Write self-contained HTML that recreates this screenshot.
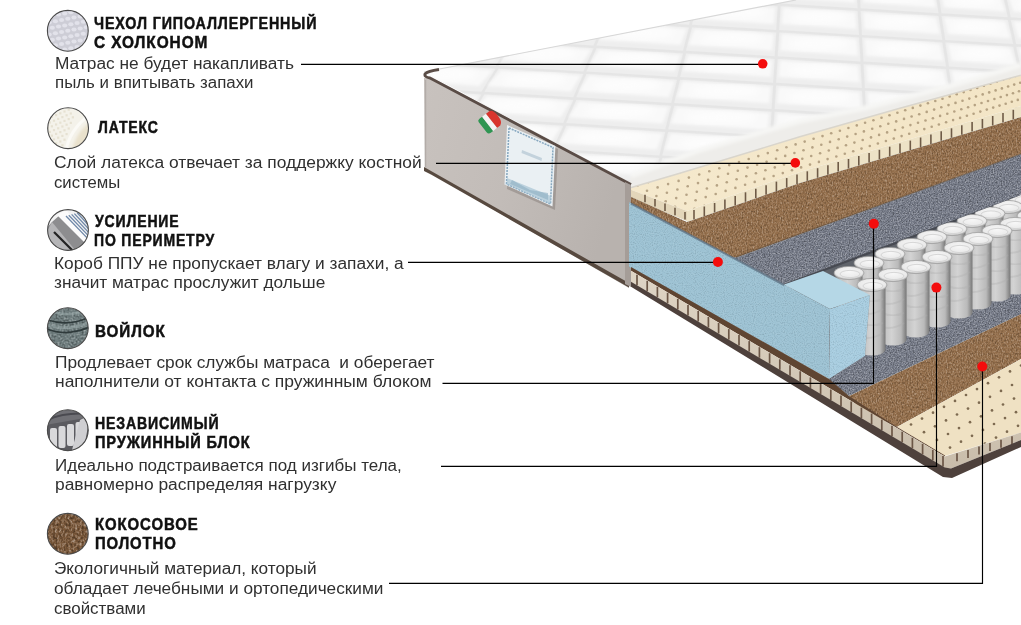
<!DOCTYPE html>
<html><head><meta charset="utf-8">
<style>
html,body{margin:0;padding:0;background:#fff;width:1021px;height:625px;overflow:hidden;position:relative}
svg.m{position:absolute;left:0;top:0}
.t{position:absolute;white-space:pre;font-family:"Liberation Sans",sans-serif;font-weight:bold;font-size:16.5px;line-height:16.5px;color:#111;-webkit-text-stroke:0.5px #111;letter-spacing:1px;transform-origin:0 0}
.b{position:absolute;white-space:pre;font-family:"Liberation Sans",sans-serif;font-size:16px;line-height:16px;color:#303030;transform-origin:0 0}
.c{position:absolute;border-radius:50%;box-sizing:border-box;overflow:hidden}
</style></head><body>
<svg class="m" width="1021" height="625" viewBox="0 0 1021 625">
<defs>
<linearGradient id="gSide" x1="0" y1="0" x2="1" y2="0.3">
<stop offset="0" stop-color="#c8c2be"/><stop offset="0.5" stop-color="#c2bcb8"/><stop offset="1" stop-color="#b8b2ae"/>
</linearGradient>
<linearGradient id="gCover" x1="0" y1="0" x2="0.6" y2="1">
<stop offset="0" stop-color="#f7f7f7"/><stop offset="1" stop-color="#f0f0f0"/>
</linearGradient>
<linearGradient id="gSpring" x1="0" y1="0" x2="1" y2="0">
<stop offset="0" stop-color="#7a7a7a"/><stop offset="0.18" stop-color="#c2c2c2"/><stop offset="0.45" stop-color="#d3d3d3"/><stop offset="0.8" stop-color="#bababa"/><stop offset="1" stop-color="#777777"/>
</linearGradient>
<radialGradient id="gCap" cx="0.5" cy="0.4" r="0.6">
<stop offset="0" stop-color="#f7f7f7"/><stop offset="0.75" stop-color="#eaeaea"/><stop offset="1" stop-color="#b8b8b8"/>
</radialGradient>
<linearGradient id="gLatexTop" x1="0" y1="0" x2="1" y2="0">
<stop offset="0" stop-color="#f5e9cd"/><stop offset="1" stop-color="#f3e5c6"/>
</linearGradient>
<linearGradient id="gTile" x1="0" y1="0" x2="0" y2="1">
<stop offset="0" stop-color="#dfd5c5"/><stop offset="1" stop-color="#c9bdab"/>
</linearGradient>
<filter id="tCoir" x="0" y="0" width="100%" height="100%" color-interpolation-filters="sRGB">
<feTurbulence type="fractalNoise" baseFrequency="0.8 0.45" numOctaves="3" seed="4" result="n"/>
<feColorMatrix in="n" type="matrix" values="0.400 0 0 0 0.300  0.400 0 0 0 0.300  0.400 0 0 0 0.300  0 0 0 0 1" result="g"/>
<feBlend in="SourceGraphic" in2="g" mode="overlay" result="b"/>
<feComposite in="b" in2="SourceAlpha" operator="in"/>
</filter><filter id="tFelt" x="0" y="0" width="100%" height="100%" color-interpolation-filters="sRGB">
<feTurbulence type="fractalNoise" baseFrequency="0.75" numOctaves="2" seed="2" result="n"/>
<feColorMatrix in="n" type="matrix" values="0.500 0 0 0 0.250  0.500 0 0 0 0.250  0.500 0 0 0 0.250  0 0 0 0 1" result="g"/>
<feBlend in="SourceGraphic" in2="g" mode="overlay" result="b"/>
<feComposite in="b" in2="SourceAlpha" operator="in"/>
</filter><filter id="tFoam" x="0" y="0" width="100%" height="100%" color-interpolation-filters="sRGB">
<feTurbulence type="fractalNoise" baseFrequency="0.9" numOctaves="1" seed="8" result="n"/>
<feColorMatrix in="n" type="matrix" values="0.180 0 0 0 0.410  0.180 0 0 0 0.410  0.180 0 0 0 0.410  0 0 0 0 1" result="g"/>
<feBlend in="SourceGraphic" in2="g" mode="overlay" result="b"/>
<feComposite in="b" in2="SourceAlpha" operator="in"/>
</filter>
<filter id="blur0"><feGaussianBlur stdDeviation="0.35"/></filter>
<filter id="blur1"><feGaussianBlur stdDeviation="0.7"/></filter>
<filter id="blur2"><feGaussianBlur stdDeviation="1.5"/></filter>
<filter id="blur3"><feGaussianBlur stdDeviation="3"/></filter>
<clipPath id="cpCover"><polygon points="424,72 796,0 1021,0 1021,68 631,183"/></clipPath>
<clipPath id="cpSprings"><polygon points="784,284 1021,195 1021,310 870,372 829,380"/></clipPath>
</defs>
<polygon points="424.0,72.0 796.0,0.0 1021.0,0.0 1021.0,68.0 631.0,183.0" fill="#e5e5e5" />
<g clip-path="url(#cpCover)">
<polygon points="395.2,-16.9 464.4,-12.6 446.6,10.1 373.7,5.6" fill="#eeeeee" filter="url(#blur1)"/>
<polygon points="397.7,-15.4 461.9,-11.1 444.1,4.3 376.2,-0.2" fill="#f9f9f9" filter="url(#blur2)"/>
<ellipse cx="420.0" cy="-6.6" rx="26.0" ry="6" fill="#fdfdfd" filter="url(#blur3)"/>
<polygon points="373.7,8.3 446.6,12.8 428.8,35.6 352.3,30.8" fill="#eeeeee" filter="url(#blur1)"/>
<polygon points="376.2,9.8 444.1,14.3 426.3,29.8 354.8,25.0" fill="#f9f9f9" filter="url(#blur2)"/>
<ellipse cx="400.3" cy="18.7" rx="27.3" ry="6" fill="#fdfdfd" filter="url(#blur3)"/>
<polygon points="352.3,33.5 428.8,38.3 411.0,61.0 330.9,56.0" fill="#eeeeee" filter="url(#blur1)"/>
<polygon points="354.8,35.0 426.3,39.8 408.5,55.2 333.4,50.2" fill="#f9f9f9" filter="url(#blur2)"/>
<ellipse cx="380.7" cy="44.1" rx="28.6" ry="6" fill="#fdfdfd" filter="url(#blur3)"/>
<polygon points="330.9,58.7 411.0,63.7 393.2,86.4 309.4,81.2" fill="#eeeeee" filter="url(#blur1)"/>
<polygon points="333.4,60.2 408.5,65.2 390.7,80.6 311.9,75.4" fill="#f9f9f9" filter="url(#blur2)"/>
<ellipse cx="361.1" cy="69.4" rx="29.9" ry="6" fill="#fdfdfd" filter="url(#blur3)"/>
<polygon points="309.4,83.9 393.2,89.1 375.4,111.9 288.0,106.4" fill="#eeeeee" filter="url(#blur1)"/>
<polygon points="311.9,85.4 390.7,90.6 372.9,106.1 290.5,100.6" fill="#f9f9f9" filter="url(#blur2)"/>
<ellipse cx="341.5" cy="94.7" rx="31.2" ry="6" fill="#fdfdfd" filter="url(#blur3)"/>
<polygon points="288.0,109.1 375.4,114.6 357.5,137.3 266.6,131.7" fill="#eeeeee" filter="url(#blur1)"/>
<polygon points="290.5,110.6 372.9,116.1 355.0,131.5 269.1,125.9" fill="#f9f9f9" filter="url(#blur2)"/>
<ellipse cx="321.9" cy="120.0" rx="32.5" ry="6" fill="#fdfdfd" filter="url(#blur3)"/>
<polygon points="266.6,134.4 357.5,140.0 339.7,162.7 245.1,156.9" fill="#eeeeee" filter="url(#blur1)"/>
<polygon points="269.1,135.9 355.0,141.5 337.2,156.9 247.6,151.1" fill="#f9f9f9" filter="url(#blur2)"/>
<ellipse cx="302.2" cy="145.3" rx="33.8" ry="6" fill="#fdfdfd" filter="url(#blur3)"/>
<polygon points="245.1,159.6 339.7,165.4 321.9,188.2 223.7,182.1" fill="#eeeeee" filter="url(#blur1)"/>
<polygon points="247.6,161.1 337.2,166.9 319.4,182.4 226.2,176.3" fill="#f9f9f9" filter="url(#blur2)"/>
<ellipse cx="282.6" cy="170.7" rx="35.1" ry="6" fill="#fdfdfd" filter="url(#blur3)"/>
<polygon points="223.7,184.8 321.9,190.9 304.1,213.6 202.3,207.3" fill="#eeeeee" filter="url(#blur1)"/>
<polygon points="226.2,186.3 319.4,192.4 301.6,207.8 204.8,201.5" fill="#f9f9f9" filter="url(#blur2)"/>
<ellipse cx="263.0" cy="196.0" rx="36.4" ry="6" fill="#fdfdfd" filter="url(#blur3)"/>
<polygon points="485.2,-38.0 551.9,-33.8 537.8,-10.9 467.4,-15.3" fill="#eeeeee" filter="url(#blur1)"/>
<polygon points="487.7,-36.5 549.4,-32.3 535.3,-16.7 469.9,-21.1" fill="#f9f9f9" filter="url(#blur2)"/>
<ellipse cx="510.6" cy="-27.7" rx="25.1" ry="6" fill="#fdfdfd" filter="url(#blur3)"/>
<polygon points="467.4,-12.6 537.8,-8.2 523.7,14.8 449.6,10.1" fill="#eeeeee" filter="url(#blur1)"/>
<polygon points="469.9,-11.1 535.3,-6.7 521.2,9.0 452.1,4.3" fill="#f9f9f9" filter="url(#blur2)"/>
<ellipse cx="494.6" cy="-2.1" rx="26.4" ry="6" fill="#fdfdfd" filter="url(#blur3)"/>
<polygon points="449.6,12.8 523.7,17.5 509.6,40.4 431.8,35.6" fill="#eeeeee" filter="url(#blur1)"/>
<polygon points="452.1,14.3 521.2,19.0 507.1,34.6 434.3,29.8" fill="#f9f9f9" filter="url(#blur2)"/>
<ellipse cx="478.7" cy="23.4" rx="27.8" ry="6" fill="#fdfdfd" filter="url(#blur3)"/>
<polygon points="431.8,38.3 509.6,43.1 495.5,66.1 414.0,61.0" fill="#eeeeee" filter="url(#blur1)"/>
<polygon points="434.3,39.8 507.1,44.6 493.0,60.3 416.5,55.2" fill="#f9f9f9" filter="url(#blur2)"/>
<ellipse cx="462.7" cy="49.0" rx="29.1" ry="6" fill="#fdfdfd" filter="url(#blur3)"/>
<polygon points="414.0,63.7 495.5,68.8 481.4,91.7 396.2,86.4" fill="#eeeeee" filter="url(#blur1)"/>
<polygon points="416.5,65.2 493.0,70.3 478.9,85.9 398.7,80.6" fill="#f9f9f9" filter="url(#blur2)"/>
<ellipse cx="446.7" cy="74.5" rx="30.4" ry="6" fill="#fdfdfd" filter="url(#blur3)"/>
<polygon points="396.2,89.1 481.4,94.4 467.3,117.4 378.4,111.9" fill="#eeeeee" filter="url(#blur1)"/>
<polygon points="398.7,90.6 478.9,95.9 464.8,111.6 380.9,106.1" fill="#f9f9f9" filter="url(#blur2)"/>
<ellipse cx="430.8" cy="100.1" rx="31.8" ry="6" fill="#fdfdfd" filter="url(#blur3)"/>
<polygon points="378.4,114.6 467.3,120.1 453.2,143.0 360.5,137.3" fill="#eeeeee" filter="url(#blur1)"/>
<polygon points="380.9,116.1 464.8,121.6 450.7,137.2 363.0,131.5" fill="#f9f9f9" filter="url(#blur2)"/>
<ellipse cx="414.8" cy="125.6" rx="33.1" ry="6" fill="#fdfdfd" filter="url(#blur3)"/>
<polygon points="360.5,140.0 453.2,145.7 439.1,168.7 342.7,162.7" fill="#eeeeee" filter="url(#blur1)"/>
<polygon points="363.0,141.5 450.7,147.2 436.6,162.9 345.2,156.9" fill="#f9f9f9" filter="url(#blur2)"/>
<ellipse cx="398.9" cy="151.1" rx="34.4" ry="6" fill="#fdfdfd" filter="url(#blur3)"/>
<polygon points="342.7,165.4 439.1,171.4 424.9,194.3 324.9,188.2" fill="#eeeeee" filter="url(#blur1)"/>
<polygon points="345.2,166.9 436.6,172.9 422.4,188.5 327.4,182.4" fill="#f9f9f9" filter="url(#blur2)"/>
<ellipse cx="382.9" cy="176.7" rx="35.8" ry="6" fill="#fdfdfd" filter="url(#blur3)"/>
<polygon points="324.9,190.9 424.9,197.0 410.8,220.0 307.1,213.6" fill="#eeeeee" filter="url(#blur1)"/>
<polygon points="327.4,192.4 422.4,198.5 408.3,214.2 309.6,207.8" fill="#f9f9f9" filter="url(#blur2)"/>
<ellipse cx="367.0" cy="202.2" rx="37.1" ry="6" fill="#fdfdfd" filter="url(#blur3)"/>
<polygon points="554.9,-33.8 623.8,-29.5 613.7,-6.3 540.8,-10.9" fill="#eeeeee" filter="url(#blur1)"/>
<polygon points="557.4,-32.3 621.3,-28.0 611.2,-12.1 543.3,-16.7" fill="#f9f9f9" filter="url(#blur2)"/>
<ellipse cx="583.3" cy="-23.3" rx="25.9" ry="6" fill="#fdfdfd" filter="url(#blur3)"/>
<polygon points="540.8,-8.2 613.7,-3.6 603.6,19.6 526.7,14.8" fill="#eeeeee" filter="url(#blur1)"/>
<polygon points="543.3,-6.7 611.2,-2.1 601.1,13.8 529.2,9.0" fill="#f9f9f9" filter="url(#blur2)"/>
<ellipse cx="571.2" cy="2.5" rx="27.3" ry="6" fill="#fdfdfd" filter="url(#blur3)"/>
<polygon points="526.7,17.5 603.6,22.3 593.5,45.5 512.6,40.4" fill="#eeeeee" filter="url(#blur1)"/>
<polygon points="529.2,19.0 601.1,23.8 591.0,39.7 515.1,34.6" fill="#f9f9f9" filter="url(#blur2)"/>
<ellipse cx="559.1" cy="28.3" rx="28.7" ry="6" fill="#fdfdfd" filter="url(#blur3)"/>
<polygon points="512.6,43.1 593.5,48.2 583.4,71.4 498.5,66.1" fill="#eeeeee" filter="url(#blur1)"/>
<polygon points="515.1,44.6 591.0,49.7 580.9,65.6 501.0,60.3" fill="#f9f9f9" filter="url(#blur2)"/>
<ellipse cx="547.0" cy="54.0" rx="30.2" ry="6" fill="#fdfdfd" filter="url(#blur3)"/>
<polygon points="498.5,68.8 583.4,74.1 573.3,97.2 484.4,91.7" fill="#eeeeee" filter="url(#blur1)"/>
<polygon points="501.0,70.3 580.9,75.6 570.8,91.4 486.9,85.9" fill="#f9f9f9" filter="url(#blur2)"/>
<ellipse cx="534.9" cy="79.8" rx="31.6" ry="6" fill="#fdfdfd" filter="url(#blur3)"/>
<polygon points="484.4,94.4 573.3,99.9 563.2,123.1 470.3,117.4" fill="#eeeeee" filter="url(#blur1)"/>
<polygon points="486.9,95.9 570.8,101.4 560.7,117.3 472.8,111.6" fill="#f9f9f9" filter="url(#blur2)"/>
<ellipse cx="522.8" cy="105.6" rx="33.1" ry="6" fill="#fdfdfd" filter="url(#blur3)"/>
<polygon points="470.3,120.1 563.2,125.8 553.1,149.0 456.2,143.0" fill="#eeeeee" filter="url(#blur1)"/>
<polygon points="472.8,121.6 560.7,127.3 550.6,143.2 458.7,137.2" fill="#f9f9f9" filter="url(#blur2)"/>
<ellipse cx="510.7" cy="131.4" rx="34.5" ry="6" fill="#fdfdfd" filter="url(#blur3)"/>
<polygon points="456.2,145.7 553.1,151.7 543.0,174.9 442.1,168.7" fill="#eeeeee" filter="url(#blur1)"/>
<polygon points="458.7,147.2 550.6,153.2 540.5,169.1 444.6,162.9" fill="#f9f9f9" filter="url(#blur2)"/>
<ellipse cx="498.6" cy="157.1" rx="36.0" ry="6" fill="#fdfdfd" filter="url(#blur3)"/>
<polygon points="442.1,171.4 543.0,177.6 532.9,200.8 427.9,194.3" fill="#eeeeee" filter="url(#blur1)"/>
<polygon points="444.6,172.9 540.5,179.1 530.4,195.0 430.4,188.5" fill="#f9f9f9" filter="url(#blur2)"/>
<ellipse cx="486.5" cy="182.9" rx="37.4" ry="6" fill="#fdfdfd" filter="url(#blur3)"/>
<polygon points="427.9,197.0 532.9,203.5 522.8,226.7 413.8,220.0" fill="#eeeeee" filter="url(#blur1)"/>
<polygon points="430.4,198.5 530.4,205.0 520.3,220.9 416.3,214.2" fill="#f9f9f9" filter="url(#blur2)"/>
<ellipse cx="474.4" cy="208.7" rx="38.9" ry="6" fill="#fdfdfd" filter="url(#blur3)"/>
<polygon points="626.8,-29.5 700.8,-24.9 694.9,-1.5 616.7,-6.3" fill="#eeeeee" filter="url(#blur1)"/>
<polygon points="629.3,-28.0 698.3,-23.4 692.4,-7.3 619.2,-12.1" fill="#f9f9f9" filter="url(#blur2)"/>
<ellipse cx="659.8" cy="-18.7" rx="27.7" ry="6" fill="#fdfdfd" filter="url(#blur3)"/>
<polygon points="616.7,-3.6 694.9,1.2 689.0,24.7 606.6,19.6" fill="#eeeeee" filter="url(#blur1)"/>
<polygon points="619.2,-2.1 692.4,2.7 686.5,18.9 609.1,13.8" fill="#f9f9f9" filter="url(#blur2)"/>
<ellipse cx="651.8" cy="7.3" rx="29.2" ry="6" fill="#fdfdfd" filter="url(#blur3)"/>
<polygon points="606.6,22.3 689.0,27.4 683.0,50.8 596.5,45.5" fill="#eeeeee" filter="url(#blur1)"/>
<polygon points="609.1,23.8 686.5,28.9 680.5,45.0 599.0,39.7" fill="#f9f9f9" filter="url(#blur2)"/>
<ellipse cx="643.8" cy="33.3" rx="30.7" ry="6" fill="#fdfdfd" filter="url(#blur3)"/>
<polygon points="596.5,48.2 683.0,53.5 677.1,77.0 586.4,71.4" fill="#eeeeee" filter="url(#blur1)"/>
<polygon points="599.0,49.7 680.5,55.0 674.6,71.2 588.9,65.6" fill="#f9f9f9" filter="url(#blur2)"/>
<ellipse cx="635.7" cy="59.4" rx="32.2" ry="6" fill="#fdfdfd" filter="url(#blur3)"/>
<polygon points="586.4,74.1 677.1,79.7 671.2,103.1 576.3,97.2" fill="#eeeeee" filter="url(#blur1)"/>
<polygon points="588.9,75.6 674.6,81.2 668.7,97.3 578.8,91.4" fill="#f9f9f9" filter="url(#blur2)"/>
<ellipse cx="627.7" cy="85.4" rx="33.7" ry="6" fill="#fdfdfd" filter="url(#blur3)"/>
<polygon points="576.3,99.9 671.2,105.8 665.2,129.3 566.2,123.1" fill="#eeeeee" filter="url(#blur1)"/>
<polygon points="578.8,101.4 668.7,107.3 662.7,123.5 568.7,117.3" fill="#f9f9f9" filter="url(#blur2)"/>
<ellipse cx="619.7" cy="111.4" rx="35.2" ry="6" fill="#fdfdfd" filter="url(#blur3)"/>
<polygon points="566.2,125.8 665.2,132.0 659.3,155.4 556.1,149.0" fill="#eeeeee" filter="url(#blur1)"/>
<polygon points="568.7,127.3 662.7,133.5 656.8,149.6 558.6,143.2" fill="#f9f9f9" filter="url(#blur2)"/>
<ellipse cx="611.7" cy="137.4" rx="36.7" ry="6" fill="#fdfdfd" filter="url(#blur3)"/>
<polygon points="556.1,151.7 659.3,158.1 653.4,181.6 546.0,174.9" fill="#eeeeee" filter="url(#blur1)"/>
<polygon points="558.6,153.2 656.8,159.6 650.9,175.8 548.5,169.1" fill="#f9f9f9" filter="url(#blur2)"/>
<ellipse cx="603.7" cy="163.4" rx="38.2" ry="6" fill="#fdfdfd" filter="url(#blur3)"/>
<polygon points="546.0,177.6 653.4,184.3 647.4,207.7 535.9,200.8" fill="#eeeeee" filter="url(#blur1)"/>
<polygon points="548.5,179.1 650.9,185.8 644.9,201.9 538.4,195.0" fill="#f9f9f9" filter="url(#blur2)"/>
<ellipse cx="595.7" cy="189.4" rx="39.7" ry="6" fill="#fdfdfd" filter="url(#blur3)"/>
<polygon points="703.8,-24.9 779.3,-20.2 777.7,3.5 697.9,-1.5" fill="#eeeeee" filter="url(#blur1)"/>
<polygon points="706.3,-23.4 776.8,-18.7 775.2,-2.3 700.4,-7.3" fill="#f9f9f9" filter="url(#blur2)"/>
<ellipse cx="739.7" cy="-13.9" rx="28.2" ry="6" fill="#fdfdfd" filter="url(#blur3)"/>
<polygon points="697.9,1.2 777.7,6.2 776.2,29.9 692.0,24.7" fill="#eeeeee" filter="url(#blur1)"/>
<polygon points="700.4,2.7 775.2,7.7 773.7,24.1 694.5,18.9" fill="#f9f9f9" filter="url(#blur2)"/>
<ellipse cx="735.9" cy="12.4" rx="29.8" ry="6" fill="#fdfdfd" filter="url(#blur3)"/>
<polygon points="692.0,27.4 776.2,32.6 774.7,56.3 686.0,50.8" fill="#eeeeee" filter="url(#blur1)"/>
<polygon points="694.5,28.9 773.7,34.1 772.2,50.5 688.5,45.0" fill="#f9f9f9" filter="url(#blur2)"/>
<ellipse cx="732.2" cy="38.6" rx="31.4" ry="6" fill="#fdfdfd" filter="url(#blur3)"/>
<polygon points="686.0,53.5 774.7,59.0 773.1,82.7 680.1,77.0" fill="#eeeeee" filter="url(#blur1)"/>
<polygon points="688.5,55.0 772.2,60.5 770.6,76.9 682.6,71.2" fill="#f9f9f9" filter="url(#blur2)"/>
<ellipse cx="728.5" cy="64.9" rx="33.0" ry="6" fill="#fdfdfd" filter="url(#blur3)"/>
<polygon points="680.1,79.7 773.1,85.4 771.6,109.1 674.2,103.1" fill="#eeeeee" filter="url(#blur1)"/>
<polygon points="682.6,81.2 770.6,86.9 769.1,103.3 676.7,97.3" fill="#f9f9f9" filter="url(#blur2)"/>
<ellipse cx="724.7" cy="91.2" rx="34.6" ry="6" fill="#fdfdfd" filter="url(#blur3)"/>
<polygon points="674.2,105.8 771.6,111.8 770.1,135.6 668.2,129.3" fill="#eeeeee" filter="url(#blur1)"/>
<polygon points="676.7,107.3 769.1,113.3 767.6,129.8 670.7,123.5" fill="#f9f9f9" filter="url(#blur2)"/>
<ellipse cx="721.0" cy="117.5" rx="36.2" ry="6" fill="#fdfdfd" filter="url(#blur3)"/>
<polygon points="668.2,132.0 770.1,138.3 768.5,162.0 662.3,155.4" fill="#eeeeee" filter="url(#blur1)"/>
<polygon points="670.7,133.5 767.6,139.8 766.0,156.2 664.8,149.6" fill="#f9f9f9" filter="url(#blur2)"/>
<ellipse cx="717.3" cy="143.7" rx="37.7" ry="6" fill="#fdfdfd" filter="url(#blur3)"/>
<polygon points="662.3,158.1 768.5,164.7 767.0,188.4 656.4,181.6" fill="#eeeeee" filter="url(#blur1)"/>
<polygon points="664.8,159.6 766.0,166.2 764.5,182.6 658.9,175.8" fill="#f9f9f9" filter="url(#blur2)"/>
<ellipse cx="713.5" cy="170.0" rx="39.3" ry="6" fill="#fdfdfd" filter="url(#blur3)"/>
<polygon points="656.4,184.3 767.0,191.1 765.5,214.8 650.4,207.7" fill="#eeeeee" filter="url(#blur1)"/>
<polygon points="658.9,185.8 764.5,192.6 763.0,209.0 652.9,201.9" fill="#f9f9f9" filter="url(#blur2)"/>
<ellipse cx="709.8" cy="196.3" rx="40.9" ry="6" fill="#fdfdfd" filter="url(#blur3)"/>
<polygon points="782.3,-20.2 856.2,-15.6 857.6,8.3 780.7,3.5" fill="#eeeeee" filter="url(#blur1)"/>
<polygon points="784.8,-18.7 853.7,-14.1 855.1,2.5 783.2,-2.3" fill="#f9f9f9" filter="url(#blur2)"/>
<ellipse cx="819.2" cy="-9.1" rx="27.7" ry="6" fill="#fdfdfd" filter="url(#blur3)"/>
<polygon points="780.7,6.2 857.6,11.0 859.0,34.9 779.2,29.9" fill="#eeeeee" filter="url(#blur1)"/>
<polygon points="783.2,7.7 855.1,12.5 856.5,29.1 781.7,24.1" fill="#f9f9f9" filter="url(#blur2)"/>
<ellipse cx="819.2" cy="17.4" rx="28.8" ry="6" fill="#fdfdfd" filter="url(#blur3)"/>
<polygon points="779.2,32.6 859.0,37.6 860.5,61.5 777.7,56.3" fill="#eeeeee" filter="url(#blur1)"/>
<polygon points="781.7,34.1 856.5,39.1 858.0,55.7 780.2,50.5" fill="#f9f9f9" filter="url(#blur2)"/>
<ellipse cx="819.1" cy="43.9" rx="29.8" ry="6" fill="#fdfdfd" filter="url(#blur3)"/>
<polygon points="777.7,59.0 860.5,64.2 861.9,88.1 776.1,82.7" fill="#eeeeee" filter="url(#blur1)"/>
<polygon points="780.2,60.5 858.0,65.7 859.4,82.3 778.6,76.9" fill="#f9f9f9" filter="url(#blur2)"/>
<ellipse cx="819.1" cy="70.4" rx="30.9" ry="6" fill="#fdfdfd" filter="url(#blur3)"/>
<polygon points="776.1,85.4 861.9,90.8 863.4,114.7 774.6,109.1" fill="#eeeeee" filter="url(#blur1)"/>
<polygon points="778.6,86.9 859.4,92.3 860.9,108.9 777.1,103.3" fill="#f9f9f9" filter="url(#blur2)"/>
<ellipse cx="819.0" cy="96.9" rx="32.0" ry="6" fill="#fdfdfd" filter="url(#blur3)"/>
<polygon points="774.6,111.8 863.4,117.4 864.8,141.2 773.1,135.6" fill="#eeeeee" filter="url(#blur1)"/>
<polygon points="777.1,113.3 860.9,118.9 862.3,135.4 775.6,129.8" fill="#f9f9f9" filter="url(#blur2)"/>
<ellipse cx="819.0" cy="123.3" rx="33.0" ry="6" fill="#fdfdfd" filter="url(#blur3)"/>
<polygon points="773.1,138.3 864.8,143.9 866.2,167.8 771.5,162.0" fill="#eeeeee" filter="url(#blur1)"/>
<polygon points="775.6,139.8 862.3,145.4 863.7,162.0 774.0,156.2" fill="#f9f9f9" filter="url(#blur2)"/>
<ellipse cx="818.9" cy="149.8" rx="34.1" ry="6" fill="#fdfdfd" filter="url(#blur3)"/>
<polygon points="771.5,164.7 866.2,170.5 867.7,194.4 770.0,188.4" fill="#eeeeee" filter="url(#blur1)"/>
<polygon points="774.0,166.2 863.7,172.0 865.2,188.6 772.5,182.6" fill="#f9f9f9" filter="url(#blur2)"/>
<ellipse cx="818.9" cy="176.3" rx="35.2" ry="6" fill="#fdfdfd" filter="url(#blur3)"/>
<polygon points="770.0,191.1 867.7,197.1 869.1,221.0 768.5,214.8" fill="#eeeeee" filter="url(#blur1)"/>
<polygon points="772.5,192.6 865.2,198.6 866.6,215.2 771.0,209.0" fill="#f9f9f9" filter="url(#blur2)"/>
<ellipse cx="818.8" cy="202.8" rx="36.2" ry="6" fill="#fdfdfd" filter="url(#blur3)"/>
<polygon points="859.2,-15.6 934.8,-10.9 938.5,13.2 860.6,8.3" fill="#eeeeee" filter="url(#blur1)"/>
<polygon points="861.7,-14.1 932.3,-9.4 936.0,7.4 863.1,2.5" fill="#f9f9f9" filter="url(#blur2)"/>
<ellipse cx="898.3" cy="-4.4" rx="28.3" ry="6" fill="#fdfdfd" filter="url(#blur3)"/>
<polygon points="860.6,11.0 938.5,15.9 942.3,39.9 862.0,34.9" fill="#eeeeee" filter="url(#blur1)"/>
<polygon points="863.1,12.5 936.0,17.4 939.8,34.1 864.5,29.1" fill="#f9f9f9" filter="url(#blur2)"/>
<ellipse cx="900.9" cy="22.3" rx="29.1" ry="6" fill="#fdfdfd" filter="url(#blur3)"/>
<polygon points="862.0,37.6 942.3,42.6 946.0,66.6 863.5,61.5" fill="#eeeeee" filter="url(#blur1)"/>
<polygon points="864.5,39.1 939.8,44.1 943.5,60.8 866.0,55.7" fill="#f9f9f9" filter="url(#blur2)"/>
<ellipse cx="903.4" cy="48.9" rx="30.0" ry="6" fill="#fdfdfd" filter="url(#blur3)"/>
<polygon points="863.5,64.2 946.0,69.3 949.7,93.3 864.9,88.1" fill="#eeeeee" filter="url(#blur1)"/>
<polygon points="866.0,65.7 943.5,70.8 947.2,87.5 867.4,82.3" fill="#f9f9f9" filter="url(#blur2)"/>
<ellipse cx="906.0" cy="75.6" rx="30.8" ry="6" fill="#fdfdfd" filter="url(#blur3)"/>
<polygon points="864.9,90.8 949.7,96.0 953.5,120.1 866.4,114.7" fill="#eeeeee" filter="url(#blur1)"/>
<polygon points="867.4,92.3 947.2,97.5 951.0,114.3 868.9,108.9" fill="#f9f9f9" filter="url(#blur2)"/>
<ellipse cx="908.6" cy="102.2" rx="31.6" ry="6" fill="#fdfdfd" filter="url(#blur3)"/>
<polygon points="866.4,117.4 953.5,122.8 957.2,146.8 867.8,141.2" fill="#eeeeee" filter="url(#blur1)"/>
<polygon points="868.9,118.9 951.0,124.3 954.7,141.0 870.3,135.4" fill="#f9f9f9" filter="url(#blur2)"/>
<ellipse cx="911.2" cy="128.9" rx="32.4" ry="6" fill="#fdfdfd" filter="url(#blur3)"/>
<polygon points="867.8,143.9 957.2,149.5 961.0,173.5 869.2,167.8" fill="#eeeeee" filter="url(#blur1)"/>
<polygon points="870.3,145.4 954.7,151.0 958.5,167.7 871.7,162.0" fill="#f9f9f9" filter="url(#blur2)"/>
<ellipse cx="913.8" cy="155.5" rx="33.3" ry="6" fill="#fdfdfd" filter="url(#blur3)"/>
<polygon points="869.2,170.5 961.0,176.2 964.7,200.2 870.7,194.4" fill="#eeeeee" filter="url(#blur1)"/>
<polygon points="871.7,172.0 958.5,177.7 962.2,194.4 873.2,188.6" fill="#f9f9f9" filter="url(#blur2)"/>
<ellipse cx="916.4" cy="182.2" rx="34.1" ry="6" fill="#fdfdfd" filter="url(#blur3)"/>
<polygon points="870.7,197.1 964.7,202.9 968.4,227.0 872.1,221.0" fill="#eeeeee" filter="url(#blur1)"/>
<polygon points="873.2,198.6 962.2,204.4 965.9,221.2 874.6,215.2" fill="#f9f9f9" filter="url(#blur2)"/>
<ellipse cx="919.0" cy="208.8" rx="34.9" ry="6" fill="#fdfdfd" filter="url(#blur3)"/>
<polygon points="934.0,-37.6 997.1,-33.6 1002.4,-9.5 937.8,-13.6" fill="#eeeeee" filter="url(#blur1)"/>
<polygon points="936.5,-36.1 994.6,-32.1 999.9,-15.3 940.3,-19.4" fill="#f9f9f9" filter="url(#blur2)"/>
<ellipse cx="967.8" cy="-26.7" rx="23.8" ry="6" fill="#fdfdfd" filter="url(#blur3)"/>
<polygon points="937.8,-10.9 1002.4,-6.8 1007.8,17.3 941.5,13.2" fill="#eeeeee" filter="url(#blur1)"/>
<polygon points="940.3,-9.4 999.9,-5.3 1005.3,11.5 944.0,7.4" fill="#f9f9f9" filter="url(#blur2)"/>
<ellipse cx="972.4" cy="0.1" rx="24.4" ry="6" fill="#fdfdfd" filter="url(#blur3)"/>
<polygon points="941.5,15.9 1007.8,20.0 1013.2,44.1 945.3,39.9" fill="#eeeeee" filter="url(#blur1)"/>
<polygon points="944.0,17.4 1005.3,21.5 1010.7,38.3 947.8,34.1" fill="#f9f9f9" filter="url(#blur2)"/>
<ellipse cx="976.9" cy="26.8" rx="24.9" ry="6" fill="#fdfdfd" filter="url(#blur3)"/>
<polygon points="945.3,42.6 1013.2,46.8 1018.5,71.0 949.0,66.6" fill="#eeeeee" filter="url(#blur1)"/>
<polygon points="947.8,44.1 1010.7,48.3 1016.0,65.2 951.5,60.8" fill="#f9f9f9" filter="url(#blur2)"/>
<ellipse cx="981.5" cy="53.6" rx="25.5" ry="6" fill="#fdfdfd" filter="url(#blur3)"/>
<polygon points="949.0,69.3 1018.5,73.7 1023.9,97.8 952.7,93.3" fill="#eeeeee" filter="url(#blur1)"/>
<polygon points="951.5,70.8 1016.0,75.2 1021.4,92.0 955.2,87.5" fill="#f9f9f9" filter="url(#blur2)"/>
<ellipse cx="986.0" cy="80.4" rx="26.1" ry="6" fill="#fdfdfd" filter="url(#blur3)"/>
<polygon points="952.7,96.0 1023.9,100.5 1029.3,124.6 956.5,120.1" fill="#eeeeee" filter="url(#blur1)"/>
<polygon points="955.2,97.5 1021.4,102.0 1026.8,118.8 959.0,114.3" fill="#f9f9f9" filter="url(#blur2)"/>
<ellipse cx="990.6" cy="107.1" rx="26.7" ry="6" fill="#fdfdfd" filter="url(#blur3)"/>
<polygon points="956.5,122.8 1029.3,127.3 1034.6,151.4 960.2,146.8" fill="#eeeeee" filter="url(#blur1)"/>
<polygon points="959.0,124.3 1026.8,128.8 1032.1,145.6 962.7,141.0" fill="#f9f9f9" filter="url(#blur2)"/>
<ellipse cx="995.1" cy="133.9" rx="27.3" ry="6" fill="#fdfdfd" filter="url(#blur3)"/>
<polygon points="960.2,149.5 1034.6,154.1 1040.0,178.2 964.0,173.5" fill="#eeeeee" filter="url(#blur1)"/>
<polygon points="962.7,151.0 1032.1,155.6 1037.5,172.4 966.5,167.7" fill="#f9f9f9" filter="url(#blur2)"/>
<ellipse cx="999.7" cy="160.7" rx="27.9" ry="6" fill="#fdfdfd" filter="url(#blur3)"/>
<polygon points="964.0,176.2 1040.0,180.9 1045.4,205.1 967.7,200.2" fill="#eeeeee" filter="url(#blur1)"/>
<polygon points="966.5,177.7 1037.5,182.4 1042.9,199.3 970.2,194.4" fill="#f9f9f9" filter="url(#blur2)"/>
<ellipse cx="1004.3" cy="187.5" rx="28.5" ry="6" fill="#fdfdfd" filter="url(#blur3)"/>
<polygon points="1000.1,-33.6 1070.8,-29.2 1077.6,-5.0 1005.4,-9.5" fill="#eeeeee" filter="url(#blur1)"/>
<polygon points="1002.6,-32.1 1068.3,-27.7 1075.1,-10.8 1007.9,-15.3" fill="#f9f9f9" filter="url(#blur2)"/>
<ellipse cx="1038.5" cy="-22.5" rx="26.5" ry="6" fill="#fdfdfd" filter="url(#blur3)"/>
<polygon points="1005.4,-6.8 1077.6,-2.3 1084.3,21.9 1010.8,17.3" fill="#eeeeee" filter="url(#blur1)"/>
<polygon points="1007.9,-5.3 1075.1,-0.8 1081.8,16.1 1013.3,11.5" fill="#f9f9f9" filter="url(#blur2)"/>
<ellipse cx="1044.5" cy="4.4" rx="27.0" ry="6" fill="#fdfdfd" filter="url(#blur3)"/>
<polygon points="1010.8,20.0 1084.3,24.6 1091.0,48.8 1016.2,44.1" fill="#eeeeee" filter="url(#blur1)"/>
<polygon points="1013.3,21.5 1081.8,26.1 1088.5,43.0 1018.7,38.3" fill="#f9f9f9" filter="url(#blur2)"/>
<ellipse cx="1050.6" cy="31.2" rx="27.5" ry="6" fill="#fdfdfd" filter="url(#blur3)"/>
<polygon points="1016.2,46.8 1091.0,51.5 1097.7,75.7 1021.5,71.0" fill="#eeeeee" filter="url(#blur1)"/>
<polygon points="1018.7,48.3 1088.5,53.0 1095.2,69.9 1024.0,65.2" fill="#f9f9f9" filter="url(#blur2)"/>
<ellipse cx="1056.6" cy="58.1" rx="28.0" ry="6" fill="#fdfdfd" filter="url(#blur3)"/>
<polygon points="1021.5,73.7 1097.7,78.4 1104.5,102.6 1026.9,97.8" fill="#eeeeee" filter="url(#blur1)"/>
<polygon points="1024.0,75.2 1095.2,79.9 1102.0,96.8 1029.4,92.0" fill="#f9f9f9" filter="url(#blur2)"/>
<ellipse cx="1062.7" cy="85.0" rx="28.5" ry="6" fill="#fdfdfd" filter="url(#blur3)"/>
<polygon points="1026.9,100.5 1104.5,105.3 1111.2,129.5 1032.3,124.6" fill="#eeeeee" filter="url(#blur1)"/>
<polygon points="1029.4,102.0 1102.0,106.8 1108.7,123.7 1034.8,118.8" fill="#f9f9f9" filter="url(#blur2)"/>
<ellipse cx="1068.7" cy="111.8" rx="29.0" ry="6" fill="#fdfdfd" filter="url(#blur3)"/>
<polygon points="1032.3,127.3 1111.2,132.2 1117.9,156.4 1037.6,151.4" fill="#eeeeee" filter="url(#blur1)"/>
<polygon points="1034.8,128.8 1108.7,133.7 1115.4,150.6 1040.1,145.6" fill="#f9f9f9" filter="url(#blur2)"/>
<ellipse cx="1074.7" cy="138.7" rx="29.5" ry="6" fill="#fdfdfd" filter="url(#blur3)"/>
<polygon points="1037.6,154.1 1117.9,159.1 1124.6,183.3 1043.0,178.2" fill="#eeeeee" filter="url(#blur1)"/>
<polygon points="1040.1,155.6 1115.4,160.6 1122.1,177.5 1045.5,172.4" fill="#f9f9f9" filter="url(#blur2)"/>
<ellipse cx="1080.8" cy="165.6" rx="30.0" ry="6" fill="#fdfdfd" filter="url(#blur3)"/>
<polygon points="1043.0,180.9 1124.6,186.0 1131.4,210.2 1048.4,205.1" fill="#eeeeee" filter="url(#blur1)"/>
<polygon points="1045.5,182.4 1122.1,187.5 1128.9,204.4 1050.9,199.3" fill="#f9f9f9" filter="url(#blur2)"/>
<ellipse cx="1086.8" cy="192.4" rx="30.5" ry="6" fill="#fdfdfd" filter="url(#blur3)"/>
</g>
<polyline points="424,72 796,0" stroke="#d8d8d8" stroke-width="1.2" fill="none"/>
<polygon points="631.0,176.0 700.0,150.0 800.0,121.0 865.0,108.0 950.0,86.0 1021.0,65.0 1021.0,76.0 900.0,109.0 800.0,137.5 680.0,174.0 629.0,189.0" fill="#eeedea" />
<polyline points="631.0,176.0 700.0,150.0 800.0,121.0 865.0,108.0 950.0,86.0 1021.0,65.0" stroke="#f6f6f4" stroke-width="5" fill="none" filter="url(#blur2)"/>
<polyline points="629.0,189.0 680.0,174.0 800.0,137.5 900.0,109.0 1021.0,76.0" stroke="#d9d5cc" stroke-width="3" fill="none" filter="url(#blur1)"/>
<polygon points="629.0,189.0 680.0,174.0 800.0,137.5 900.0,109.0 1021.0,76.0 1021.0,106.0 800.0,172.0 687.0,211.0" fill="url(#gLatexTop)" />
<clipPath id="cpLT"><polygon points="629.0,189.0 680.0,174.0 800.0,137.5 900.0,109.0 1021.0,76.0 1021.0,106.0 800.0,172.0 687.0,211.0"/></clipPath>
<g clip-path="url(#cpLT)" fill="#8c7555" opacity="0.6" filter="url(#blur0)">
<circle cx="607.0" cy="186.7" r="1.3"/>
<circle cx="605.8" cy="195.3" r="1.3"/>
<circle cx="604.6" cy="203.9" r="1.3"/>
<circle cx="603.4" cy="212.5" r="1.3"/>
<circle cx="602.2" cy="221.1" r="1.3"/>
<circle cx="601.0" cy="229.7" r="1.3"/>
<circle cx="599.8" cy="238.3" r="1.3"/>
<circle cx="598.6" cy="246.9" r="1.3"/>
<circle cx="597.4" cy="255.5" r="1.3"/>
<circle cx="596.2" cy="264.1" r="1.3"/>
<circle cx="617.6" cy="183.4" r="1.3"/>
<circle cx="616.4" cy="192.0" r="1.3"/>
<circle cx="615.2" cy="200.6" r="1.3"/>
<circle cx="614.0" cy="209.2" r="1.3"/>
<circle cx="612.8" cy="217.8" r="1.3"/>
<circle cx="611.6" cy="226.4" r="1.3"/>
<circle cx="610.4" cy="235.0" r="1.3"/>
<circle cx="609.2" cy="243.6" r="1.3"/>
<circle cx="608.0" cy="252.2" r="1.3"/>
<circle cx="606.8" cy="260.8" r="1.3"/>
<circle cx="628.2" cy="180.1" r="1.3"/>
<circle cx="627.0" cy="188.7" r="1.3"/>
<circle cx="625.8" cy="197.3" r="1.3"/>
<circle cx="624.6" cy="205.9" r="1.3"/>
<circle cx="623.4" cy="214.5" r="1.3"/>
<circle cx="622.2" cy="223.1" r="1.3"/>
<circle cx="621.0" cy="231.7" r="1.3"/>
<circle cx="619.8" cy="240.3" r="1.3"/>
<circle cx="618.6" cy="248.9" r="1.3"/>
<circle cx="617.4" cy="257.5" r="1.3"/>
<circle cx="638.8" cy="176.8" r="1.3"/>
<circle cx="637.6" cy="185.4" r="1.3"/>
<circle cx="636.4" cy="194.0" r="1.3"/>
<circle cx="635.2" cy="202.6" r="1.3"/>
<circle cx="634.0" cy="211.2" r="1.3"/>
<circle cx="632.8" cy="219.8" r="1.3"/>
<circle cx="631.6" cy="228.4" r="1.3"/>
<circle cx="630.4" cy="237.0" r="1.3"/>
<circle cx="629.2" cy="245.6" r="1.3"/>
<circle cx="628.0" cy="254.2" r="1.3"/>
<circle cx="649.4" cy="173.5" r="1.3"/>
<circle cx="648.2" cy="182.1" r="1.3"/>
<circle cx="647.0" cy="190.7" r="1.3"/>
<circle cx="645.8" cy="199.3" r="1.3"/>
<circle cx="644.6" cy="207.9" r="1.3"/>
<circle cx="643.4" cy="216.5" r="1.3"/>
<circle cx="642.2" cy="225.1" r="1.3"/>
<circle cx="641.0" cy="233.7" r="1.3"/>
<circle cx="639.8" cy="242.3" r="1.3"/>
<circle cx="638.6" cy="250.9" r="1.3"/>
<circle cx="660.0" cy="170.2" r="1.3"/>
<circle cx="658.8" cy="178.8" r="1.3"/>
<circle cx="657.6" cy="187.4" r="1.3"/>
<circle cx="656.4" cy="196.0" r="1.3"/>
<circle cx="655.2" cy="204.6" r="1.3"/>
<circle cx="654.0" cy="213.2" r="1.3"/>
<circle cx="652.8" cy="221.8" r="1.3"/>
<circle cx="651.6" cy="230.4" r="1.3"/>
<circle cx="650.4" cy="239.0" r="1.3"/>
<circle cx="649.2" cy="247.6" r="1.3"/>
<circle cx="670.5" cy="166.9" r="1.3"/>
<circle cx="669.3" cy="175.5" r="1.3"/>
<circle cx="668.1" cy="184.1" r="1.3"/>
<circle cx="666.9" cy="192.7" r="1.3"/>
<circle cx="665.7" cy="201.3" r="1.3"/>
<circle cx="664.5" cy="209.9" r="1.3"/>
<circle cx="663.3" cy="218.5" r="1.3"/>
<circle cx="662.1" cy="227.1" r="1.3"/>
<circle cx="660.9" cy="235.7" r="1.3"/>
<circle cx="659.7" cy="244.3" r="1.3"/>
<circle cx="681.0" cy="163.7" r="1.3"/>
<circle cx="679.8" cy="172.3" r="1.3"/>
<circle cx="678.6" cy="180.9" r="1.3"/>
<circle cx="677.4" cy="189.5" r="1.3"/>
<circle cx="676.2" cy="198.1" r="1.3"/>
<circle cx="675.0" cy="206.7" r="1.3"/>
<circle cx="673.8" cy="215.3" r="1.3"/>
<circle cx="672.6" cy="223.9" r="1.3"/>
<circle cx="671.4" cy="232.5" r="1.3"/>
<circle cx="670.2" cy="241.1" r="1.3"/>
<circle cx="691.3" cy="160.4" r="1.3"/>
<circle cx="690.1" cy="169.0" r="1.3"/>
<circle cx="688.9" cy="177.6" r="1.3"/>
<circle cx="687.7" cy="186.2" r="1.3"/>
<circle cx="686.5" cy="194.8" r="1.3"/>
<circle cx="685.3" cy="203.4" r="1.3"/>
<circle cx="684.1" cy="212.0" r="1.3"/>
<circle cx="682.9" cy="220.6" r="1.3"/>
<circle cx="681.7" cy="229.2" r="1.3"/>
<circle cx="680.5" cy="237.8" r="1.3"/>
<circle cx="701.6" cy="157.3" r="1.3"/>
<circle cx="700.4" cy="165.9" r="1.3"/>
<circle cx="699.2" cy="174.5" r="1.3"/>
<circle cx="698.0" cy="183.1" r="1.3"/>
<circle cx="696.8" cy="191.7" r="1.3"/>
<circle cx="695.6" cy="200.3" r="1.3"/>
<circle cx="694.4" cy="208.9" r="1.3"/>
<circle cx="693.2" cy="217.5" r="1.3"/>
<circle cx="692.0" cy="226.1" r="1.3"/>
<circle cx="690.8" cy="234.7" r="1.3"/>
<circle cx="711.7" cy="154.1" r="1.3"/>
<circle cx="710.5" cy="162.7" r="1.3"/>
<circle cx="709.3" cy="171.3" r="1.3"/>
<circle cx="708.1" cy="179.9" r="1.3"/>
<circle cx="706.9" cy="188.5" r="1.3"/>
<circle cx="705.7" cy="197.1" r="1.3"/>
<circle cx="704.5" cy="205.7" r="1.3"/>
<circle cx="703.3" cy="214.3" r="1.3"/>
<circle cx="702.1" cy="222.9" r="1.3"/>
<circle cx="700.9" cy="231.5" r="1.3"/>
<circle cx="721.7" cy="151.0" r="1.3"/>
<circle cx="720.5" cy="159.6" r="1.3"/>
<circle cx="719.3" cy="168.2" r="1.3"/>
<circle cx="718.1" cy="176.8" r="1.3"/>
<circle cx="716.9" cy="185.4" r="1.3"/>
<circle cx="715.7" cy="194.0" r="1.3"/>
<circle cx="714.5" cy="202.6" r="1.3"/>
<circle cx="713.3" cy="211.2" r="1.3"/>
<circle cx="712.1" cy="219.8" r="1.3"/>
<circle cx="710.9" cy="228.4" r="1.3"/>
<circle cx="731.6" cy="147.9" r="1.3"/>
<circle cx="730.4" cy="156.5" r="1.3"/>
<circle cx="729.2" cy="165.1" r="1.3"/>
<circle cx="728.0" cy="173.7" r="1.3"/>
<circle cx="726.8" cy="182.3" r="1.3"/>
<circle cx="725.6" cy="190.9" r="1.3"/>
<circle cx="724.4" cy="199.5" r="1.3"/>
<circle cx="723.2" cy="208.1" r="1.3"/>
<circle cx="722.0" cy="216.7" r="1.3"/>
<circle cx="720.8" cy="225.3" r="1.3"/>
<circle cx="741.4" cy="144.9" r="1.3"/>
<circle cx="740.2" cy="153.5" r="1.3"/>
<circle cx="739.0" cy="162.1" r="1.3"/>
<circle cx="737.8" cy="170.7" r="1.3"/>
<circle cx="736.6" cy="179.3" r="1.3"/>
<circle cx="735.4" cy="187.9" r="1.3"/>
<circle cx="734.2" cy="196.5" r="1.3"/>
<circle cx="733.0" cy="205.1" r="1.3"/>
<circle cx="731.8" cy="213.7" r="1.3"/>
<circle cx="730.6" cy="222.3" r="1.3"/>
<circle cx="751.1" cy="141.8" r="1.3"/>
<circle cx="749.9" cy="150.4" r="1.3"/>
<circle cx="748.7" cy="159.0" r="1.3"/>
<circle cx="747.5" cy="167.6" r="1.3"/>
<circle cx="746.3" cy="176.2" r="1.3"/>
<circle cx="745.1" cy="184.8" r="1.3"/>
<circle cx="743.9" cy="193.4" r="1.3"/>
<circle cx="742.7" cy="202.0" r="1.3"/>
<circle cx="741.5" cy="210.6" r="1.3"/>
<circle cx="740.3" cy="219.2" r="1.3"/>
<circle cx="760.7" cy="138.9" r="1.3"/>
<circle cx="759.5" cy="147.5" r="1.3"/>
<circle cx="758.3" cy="156.1" r="1.3"/>
<circle cx="757.1" cy="164.7" r="1.3"/>
<circle cx="755.9" cy="173.2" r="1.3"/>
<circle cx="754.7" cy="181.9" r="1.3"/>
<circle cx="753.5" cy="190.5" r="1.3"/>
<circle cx="752.3" cy="199.1" r="1.3"/>
<circle cx="751.1" cy="207.7" r="1.3"/>
<circle cx="749.9" cy="216.2" r="1.3"/>
<circle cx="770.2" cy="135.9" r="1.3"/>
<circle cx="769.0" cy="144.5" r="1.3"/>
<circle cx="767.8" cy="153.1" r="1.3"/>
<circle cx="766.6" cy="161.7" r="1.3"/>
<circle cx="765.4" cy="170.3" r="1.3"/>
<circle cx="764.2" cy="178.9" r="1.3"/>
<circle cx="763.0" cy="187.5" r="1.3"/>
<circle cx="761.8" cy="196.1" r="1.3"/>
<circle cx="760.6" cy="204.7" r="1.3"/>
<circle cx="759.4" cy="213.3" r="1.3"/>
<circle cx="779.6" cy="133.0" r="1.3"/>
<circle cx="778.4" cy="141.6" r="1.3"/>
<circle cx="777.2" cy="150.2" r="1.3"/>
<circle cx="776.0" cy="158.8" r="1.3"/>
<circle cx="774.8" cy="167.4" r="1.3"/>
<circle cx="773.6" cy="176.0" r="1.3"/>
<circle cx="772.4" cy="184.6" r="1.3"/>
<circle cx="771.2" cy="193.2" r="1.3"/>
<circle cx="770.0" cy="201.8" r="1.3"/>
<circle cx="768.8" cy="210.4" r="1.3"/>
<circle cx="788.8" cy="130.1" r="1.3"/>
<circle cx="787.6" cy="138.7" r="1.3"/>
<circle cx="786.4" cy="147.3" r="1.3"/>
<circle cx="785.2" cy="155.9" r="1.3"/>
<circle cx="784.0" cy="164.5" r="1.3"/>
<circle cx="782.8" cy="173.1" r="1.3"/>
<circle cx="781.6" cy="181.7" r="1.3"/>
<circle cx="780.4" cy="190.3" r="1.3"/>
<circle cx="779.2" cy="198.9" r="1.3"/>
<circle cx="778.0" cy="207.5" r="1.3"/>
<circle cx="798.0" cy="127.2" r="1.3"/>
<circle cx="796.8" cy="135.8" r="1.3"/>
<circle cx="795.6" cy="144.4" r="1.3"/>
<circle cx="794.4" cy="153.0" r="1.3"/>
<circle cx="793.2" cy="161.6" r="1.3"/>
<circle cx="792.0" cy="170.2" r="1.3"/>
<circle cx="790.8" cy="178.8" r="1.3"/>
<circle cx="789.6" cy="187.4" r="1.3"/>
<circle cx="788.4" cy="196.0" r="1.3"/>
<circle cx="787.2" cy="204.6" r="1.3"/>
<circle cx="807.1" cy="124.4" r="1.3"/>
<circle cx="805.9" cy="133.0" r="1.3"/>
<circle cx="804.7" cy="141.6" r="1.3"/>
<circle cx="803.5" cy="150.2" r="1.3"/>
<circle cx="802.3" cy="158.8" r="1.3"/>
<circle cx="801.1" cy="167.4" r="1.3"/>
<circle cx="799.9" cy="176.0" r="1.3"/>
<circle cx="798.7" cy="184.6" r="1.3"/>
<circle cx="797.5" cy="193.2" r="1.3"/>
<circle cx="796.3" cy="201.8" r="1.3"/>
<circle cx="816.0" cy="121.6" r="1.3"/>
<circle cx="814.8" cy="130.2" r="1.3"/>
<circle cx="813.6" cy="138.8" r="1.3"/>
<circle cx="812.4" cy="147.4" r="1.3"/>
<circle cx="811.2" cy="156.0" r="1.3"/>
<circle cx="810.0" cy="164.6" r="1.3"/>
<circle cx="808.8" cy="173.2" r="1.3"/>
<circle cx="807.6" cy="181.8" r="1.3"/>
<circle cx="806.4" cy="190.4" r="1.3"/>
<circle cx="805.2" cy="199.0" r="1.3"/>
<circle cx="824.9" cy="118.9" r="1.3"/>
<circle cx="823.7" cy="127.5" r="1.3"/>
<circle cx="822.5" cy="136.1" r="1.3"/>
<circle cx="821.3" cy="144.7" r="1.3"/>
<circle cx="820.1" cy="153.3" r="1.3"/>
<circle cx="818.9" cy="161.9" r="1.3"/>
<circle cx="817.7" cy="170.5" r="1.3"/>
<circle cx="816.5" cy="179.1" r="1.3"/>
<circle cx="815.3" cy="187.7" r="1.3"/>
<circle cx="814.1" cy="196.3" r="1.3"/>
<circle cx="833.6" cy="116.1" r="1.3"/>
<circle cx="832.4" cy="124.7" r="1.3"/>
<circle cx="831.2" cy="133.3" r="1.3"/>
<circle cx="830.0" cy="141.9" r="1.3"/>
<circle cx="828.8" cy="150.5" r="1.3"/>
<circle cx="827.6" cy="159.1" r="1.3"/>
<circle cx="826.4" cy="167.7" r="1.3"/>
<circle cx="825.2" cy="176.3" r="1.3"/>
<circle cx="824.0" cy="184.9" r="1.3"/>
<circle cx="822.8" cy="193.5" r="1.3"/>
<circle cx="842.3" cy="113.5" r="1.3"/>
<circle cx="841.1" cy="122.1" r="1.3"/>
<circle cx="839.9" cy="130.7" r="1.3"/>
<circle cx="838.7" cy="139.3" r="1.3"/>
<circle cx="837.5" cy="147.9" r="1.3"/>
<circle cx="836.3" cy="156.5" r="1.3"/>
<circle cx="835.1" cy="165.1" r="1.3"/>
<circle cx="833.9" cy="173.7" r="1.3"/>
<circle cx="832.7" cy="182.3" r="1.3"/>
<circle cx="831.5" cy="190.9" r="1.3"/>
<circle cx="850.8" cy="110.8" r="1.3"/>
<circle cx="849.6" cy="119.4" r="1.3"/>
<circle cx="848.4" cy="128.0" r="1.3"/>
<circle cx="847.2" cy="136.6" r="1.3"/>
<circle cx="846.0" cy="145.2" r="1.3"/>
<circle cx="844.8" cy="153.8" r="1.3"/>
<circle cx="843.6" cy="162.4" r="1.3"/>
<circle cx="842.4" cy="171.0" r="1.3"/>
<circle cx="841.2" cy="179.6" r="1.3"/>
<circle cx="840.0" cy="188.2" r="1.3"/>
<circle cx="859.2" cy="108.2" r="1.3"/>
<circle cx="858.0" cy="116.8" r="1.3"/>
<circle cx="856.8" cy="125.4" r="1.3"/>
<circle cx="855.6" cy="134.0" r="1.3"/>
<circle cx="854.4" cy="142.6" r="1.3"/>
<circle cx="853.2" cy="151.2" r="1.3"/>
<circle cx="852.0" cy="159.8" r="1.3"/>
<circle cx="850.8" cy="168.4" r="1.3"/>
<circle cx="849.6" cy="177.0" r="1.3"/>
<circle cx="848.4" cy="185.6" r="1.3"/>
<circle cx="867.5" cy="105.6" r="1.3"/>
<circle cx="866.3" cy="114.2" r="1.3"/>
<circle cx="865.1" cy="122.8" r="1.3"/>
<circle cx="863.9" cy="131.4" r="1.3"/>
<circle cx="862.7" cy="140.0" r="1.3"/>
<circle cx="861.5" cy="148.6" r="1.3"/>
<circle cx="860.3" cy="157.2" r="1.3"/>
<circle cx="859.1" cy="165.8" r="1.3"/>
<circle cx="857.9" cy="174.4" r="1.3"/>
<circle cx="856.7" cy="183.0" r="1.3"/>
<circle cx="875.8" cy="103.0" r="1.3"/>
<circle cx="874.6" cy="111.6" r="1.3"/>
<circle cx="873.4" cy="120.2" r="1.3"/>
<circle cx="872.2" cy="128.8" r="1.3"/>
<circle cx="871.0" cy="137.4" r="1.3"/>
<circle cx="869.8" cy="146.0" r="1.3"/>
<circle cx="868.6" cy="154.6" r="1.3"/>
<circle cx="867.4" cy="163.2" r="1.3"/>
<circle cx="866.2" cy="171.8" r="1.3"/>
<circle cx="865.0" cy="180.4" r="1.3"/>
<circle cx="883.9" cy="100.5" r="1.3"/>
<circle cx="882.7" cy="109.1" r="1.3"/>
<circle cx="881.5" cy="117.7" r="1.3"/>
<circle cx="880.3" cy="126.3" r="1.3"/>
<circle cx="879.1" cy="134.9" r="1.3"/>
<circle cx="877.9" cy="143.5" r="1.3"/>
<circle cx="876.7" cy="152.1" r="1.3"/>
<circle cx="875.5" cy="160.7" r="1.3"/>
<circle cx="874.3" cy="169.3" r="1.3"/>
<circle cx="873.1" cy="177.9" r="1.3"/>
<circle cx="891.9" cy="98.0" r="1.3"/>
<circle cx="890.7" cy="106.6" r="1.3"/>
<circle cx="889.5" cy="115.2" r="1.3"/>
<circle cx="888.3" cy="123.8" r="1.3"/>
<circle cx="887.1" cy="132.4" r="1.3"/>
<circle cx="885.9" cy="141.0" r="1.3"/>
<circle cx="884.7" cy="149.6" r="1.3"/>
<circle cx="883.5" cy="158.2" r="1.3"/>
<circle cx="882.3" cy="166.8" r="1.3"/>
<circle cx="881.1" cy="175.4" r="1.3"/>
<circle cx="899.8" cy="95.6" r="1.3"/>
<circle cx="898.6" cy="104.2" r="1.3"/>
<circle cx="897.4" cy="112.8" r="1.3"/>
<circle cx="896.2" cy="121.4" r="1.3"/>
<circle cx="895.0" cy="130.0" r="1.3"/>
<circle cx="893.8" cy="138.6" r="1.3"/>
<circle cx="892.6" cy="147.2" r="1.3"/>
<circle cx="891.4" cy="155.8" r="1.3"/>
<circle cx="890.2" cy="164.4" r="1.3"/>
<circle cx="889.0" cy="173.0" r="1.3"/>
<circle cx="907.6" cy="93.1" r="1.3"/>
<circle cx="906.4" cy="101.7" r="1.3"/>
<circle cx="905.2" cy="110.3" r="1.3"/>
<circle cx="904.0" cy="118.9" r="1.3"/>
<circle cx="902.8" cy="127.5" r="1.3"/>
<circle cx="901.6" cy="136.1" r="1.3"/>
<circle cx="900.4" cy="144.7" r="1.3"/>
<circle cx="899.2" cy="153.3" r="1.3"/>
<circle cx="898.0" cy="161.9" r="1.3"/>
<circle cx="896.8" cy="170.5" r="1.3"/>
<circle cx="915.2" cy="90.7" r="1.3"/>
<circle cx="914.0" cy="99.3" r="1.3"/>
<circle cx="912.8" cy="107.9" r="1.3"/>
<circle cx="911.6" cy="116.5" r="1.3"/>
<circle cx="910.4" cy="125.1" r="1.3"/>
<circle cx="909.2" cy="133.7" r="1.3"/>
<circle cx="908.0" cy="142.3" r="1.3"/>
<circle cx="906.8" cy="150.9" r="1.3"/>
<circle cx="905.6" cy="159.5" r="1.3"/>
<circle cx="904.4" cy="168.1" r="1.3"/>
<circle cx="922.8" cy="88.4" r="1.3"/>
<circle cx="921.6" cy="97.0" r="1.3"/>
<circle cx="920.4" cy="105.6" r="1.3"/>
<circle cx="919.2" cy="114.2" r="1.3"/>
<circle cx="918.0" cy="122.8" r="1.3"/>
<circle cx="916.8" cy="131.4" r="1.3"/>
<circle cx="915.6" cy="140.0" r="1.3"/>
<circle cx="914.4" cy="148.6" r="1.3"/>
<circle cx="913.2" cy="157.2" r="1.3"/>
<circle cx="912.0" cy="165.8" r="1.3"/>
<circle cx="930.3" cy="86.1" r="1.3"/>
<circle cx="929.1" cy="94.7" r="1.3"/>
<circle cx="927.9" cy="103.3" r="1.3"/>
<circle cx="926.7" cy="111.9" r="1.3"/>
<circle cx="925.5" cy="120.5" r="1.3"/>
<circle cx="924.3" cy="129.1" r="1.3"/>
<circle cx="923.1" cy="137.7" r="1.3"/>
<circle cx="921.9" cy="146.2" r="1.3"/>
<circle cx="920.7" cy="154.9" r="1.3"/>
<circle cx="919.5" cy="163.5" r="1.3"/>
<circle cx="937.7" cy="83.8" r="1.3"/>
<circle cx="936.5" cy="92.4" r="1.3"/>
<circle cx="935.3" cy="101.0" r="1.3"/>
<circle cx="934.1" cy="109.6" r="1.3"/>
<circle cx="932.9" cy="118.2" r="1.3"/>
<circle cx="931.7" cy="126.8" r="1.3"/>
<circle cx="930.5" cy="135.4" r="1.3"/>
<circle cx="929.3" cy="144.0" r="1.3"/>
<circle cx="928.1" cy="152.6" r="1.3"/>
<circle cx="926.9" cy="161.2" r="1.3"/>
<circle cx="944.9" cy="81.5" r="1.3"/>
<circle cx="943.7" cy="90.1" r="1.3"/>
<circle cx="942.5" cy="98.7" r="1.3"/>
<circle cx="941.3" cy="107.3" r="1.3"/>
<circle cx="940.1" cy="115.9" r="1.3"/>
<circle cx="938.9" cy="124.5" r="1.3"/>
<circle cx="937.7" cy="133.1" r="1.3"/>
<circle cx="936.5" cy="141.7" r="1.3"/>
<circle cx="935.3" cy="150.3" r="1.3"/>
<circle cx="934.1" cy="158.9" r="1.3"/>
<circle cx="952.1" cy="79.3" r="1.3"/>
<circle cx="950.9" cy="87.9" r="1.3"/>
<circle cx="949.7" cy="96.5" r="1.3"/>
<circle cx="948.5" cy="105.1" r="1.3"/>
<circle cx="947.3" cy="113.7" r="1.3"/>
<circle cx="946.1" cy="122.3" r="1.3"/>
<circle cx="944.9" cy="130.9" r="1.3"/>
<circle cx="943.7" cy="139.5" r="1.3"/>
<circle cx="942.5" cy="148.1" r="1.3"/>
<circle cx="941.3" cy="156.7" r="1.3"/>
<circle cx="959.1" cy="77.1" r="1.3"/>
<circle cx="957.9" cy="85.7" r="1.3"/>
<circle cx="956.7" cy="94.3" r="1.3"/>
<circle cx="955.5" cy="102.9" r="1.3"/>
<circle cx="954.3" cy="111.5" r="1.3"/>
<circle cx="953.1" cy="120.1" r="1.3"/>
<circle cx="951.9" cy="128.7" r="1.3"/>
<circle cx="950.7" cy="137.3" r="1.3"/>
<circle cx="949.5" cy="145.9" r="1.3"/>
<circle cx="948.3" cy="154.5" r="1.3"/>
<circle cx="966.1" cy="74.9" r="1.3"/>
<circle cx="964.9" cy="83.5" r="1.3"/>
<circle cx="963.7" cy="92.1" r="1.3"/>
<circle cx="962.5" cy="100.7" r="1.3"/>
<circle cx="961.3" cy="109.3" r="1.3"/>
<circle cx="960.1" cy="117.9" r="1.3"/>
<circle cx="958.9" cy="126.5" r="1.3"/>
<circle cx="957.7" cy="135.1" r="1.3"/>
<circle cx="956.5" cy="143.7" r="1.3"/>
<circle cx="955.3" cy="152.3" r="1.3"/>
<circle cx="972.9" cy="72.8" r="1.3"/>
<circle cx="971.7" cy="81.4" r="1.3"/>
<circle cx="970.5" cy="90.0" r="1.3"/>
<circle cx="969.3" cy="98.6" r="1.3"/>
<circle cx="968.1" cy="107.2" r="1.3"/>
<circle cx="966.9" cy="115.8" r="1.3"/>
<circle cx="965.7" cy="124.4" r="1.3"/>
<circle cx="964.5" cy="133.0" r="1.3"/>
<circle cx="963.3" cy="141.6" r="1.3"/>
<circle cx="962.1" cy="150.2" r="1.3"/>
<circle cx="979.6" cy="70.7" r="1.3"/>
<circle cx="978.4" cy="79.3" r="1.3"/>
<circle cx="977.2" cy="87.9" r="1.3"/>
<circle cx="976.0" cy="96.5" r="1.3"/>
<circle cx="974.8" cy="105.1" r="1.3"/>
<circle cx="973.6" cy="113.7" r="1.3"/>
<circle cx="972.4" cy="122.3" r="1.3"/>
<circle cx="971.2" cy="130.9" r="1.3"/>
<circle cx="970.0" cy="139.5" r="1.3"/>
<circle cx="968.8" cy="148.1" r="1.3"/>
<circle cx="986.3" cy="68.6" r="1.3"/>
<circle cx="985.1" cy="77.2" r="1.3"/>
<circle cx="983.9" cy="85.8" r="1.3"/>
<circle cx="982.7" cy="94.4" r="1.3"/>
<circle cx="981.5" cy="103.0" r="1.3"/>
<circle cx="980.3" cy="111.6" r="1.3"/>
<circle cx="979.1" cy="120.2" r="1.3"/>
<circle cx="977.9" cy="128.8" r="1.3"/>
<circle cx="976.7" cy="137.4" r="1.3"/>
<circle cx="975.5" cy="146.0" r="1.3"/>
<circle cx="992.8" cy="66.6" r="1.3"/>
<circle cx="991.6" cy="75.2" r="1.3"/>
<circle cx="990.4" cy="83.8" r="1.3"/>
<circle cx="989.2" cy="92.4" r="1.3"/>
<circle cx="988.0" cy="101.0" r="1.3"/>
<circle cx="986.8" cy="109.6" r="1.3"/>
<circle cx="985.6" cy="118.2" r="1.3"/>
<circle cx="984.4" cy="126.8" r="1.3"/>
<circle cx="983.2" cy="135.4" r="1.3"/>
<circle cx="982.0" cy="144.0" r="1.3"/>
<circle cx="999.2" cy="64.6" r="1.3"/>
<circle cx="998.0" cy="73.2" r="1.3"/>
<circle cx="996.8" cy="81.8" r="1.3"/>
<circle cx="995.6" cy="90.4" r="1.3"/>
<circle cx="994.4" cy="99.0" r="1.3"/>
<circle cx="993.2" cy="107.6" r="1.3"/>
<circle cx="992.0" cy="116.2" r="1.3"/>
<circle cx="990.8" cy="124.8" r="1.3"/>
<circle cx="989.6" cy="133.4" r="1.3"/>
<circle cx="988.4" cy="142.0" r="1.3"/>
<circle cx="1005.5" cy="62.6" r="1.3"/>
<circle cx="1004.3" cy="71.2" r="1.3"/>
<circle cx="1003.1" cy="79.8" r="1.3"/>
<circle cx="1001.9" cy="88.4" r="1.3"/>
<circle cx="1000.7" cy="97.0" r="1.3"/>
<circle cx="999.5" cy="105.6" r="1.3"/>
<circle cx="998.3" cy="114.2" r="1.3"/>
<circle cx="997.1" cy="122.8" r="1.3"/>
<circle cx="995.9" cy="131.4" r="1.3"/>
<circle cx="994.7" cy="140.0" r="1.3"/>
<circle cx="1011.7" cy="60.7" r="1.3"/>
<circle cx="1010.5" cy="69.3" r="1.3"/>
<circle cx="1009.3" cy="77.9" r="1.3"/>
<circle cx="1008.1" cy="86.5" r="1.3"/>
<circle cx="1006.9" cy="95.1" r="1.3"/>
<circle cx="1005.7" cy="103.7" r="1.3"/>
<circle cx="1004.5" cy="112.3" r="1.3"/>
<circle cx="1003.3" cy="120.9" r="1.3"/>
<circle cx="1002.1" cy="129.5" r="1.3"/>
<circle cx="1000.9" cy="138.1" r="1.3"/>
<circle cx="1017.8" cy="58.8" r="1.3"/>
<circle cx="1016.6" cy="67.4" r="1.3"/>
<circle cx="1015.4" cy="76.0" r="1.3"/>
<circle cx="1014.2" cy="84.6" r="1.3"/>
<circle cx="1013.0" cy="93.2" r="1.3"/>
<circle cx="1011.8" cy="101.8" r="1.3"/>
<circle cx="1010.6" cy="110.4" r="1.3"/>
<circle cx="1009.4" cy="119.0" r="1.3"/>
<circle cx="1008.2" cy="127.6" r="1.3"/>
<circle cx="1007.0" cy="136.2" r="1.3"/>
<circle cx="1023.8" cy="56.9" r="1.3"/>
<circle cx="1022.6" cy="65.5" r="1.3"/>
<circle cx="1021.4" cy="74.1" r="1.3"/>
<circle cx="1020.2" cy="82.7" r="1.3"/>
<circle cx="1019.0" cy="91.3" r="1.3"/>
<circle cx="1017.8" cy="99.9" r="1.3"/>
<circle cx="1016.6" cy="108.5" r="1.3"/>
<circle cx="1015.4" cy="117.1" r="1.3"/>
<circle cx="1014.2" cy="125.7" r="1.3"/>
<circle cx="1013.0" cy="134.3" r="1.3"/>
<circle cx="1029.7" cy="55.1" r="1.3"/>
<circle cx="1028.5" cy="63.7" r="1.3"/>
<circle cx="1027.3" cy="72.3" r="1.3"/>
<circle cx="1026.1" cy="80.9" r="1.3"/>
<circle cx="1024.9" cy="89.5" r="1.3"/>
<circle cx="1023.7" cy="98.1" r="1.3"/>
<circle cx="1022.5" cy="106.7" r="1.3"/>
<circle cx="1021.3" cy="115.3" r="1.3"/>
<circle cx="1020.1" cy="123.9" r="1.3"/>
<circle cx="1018.9" cy="132.5" r="1.3"/>
<circle cx="1035.5" cy="53.3" r="1.3"/>
<circle cx="1034.3" cy="61.9" r="1.3"/>
<circle cx="1033.1" cy="70.5" r="1.3"/>
<circle cx="1031.9" cy="79.1" r="1.3"/>
<circle cx="1030.7" cy="87.7" r="1.3"/>
<circle cx="1029.5" cy="96.3" r="1.3"/>
<circle cx="1028.3" cy="104.9" r="1.3"/>
<circle cx="1027.1" cy="113.5" r="1.3"/>
<circle cx="1025.9" cy="122.1" r="1.3"/>
<circle cx="1024.7" cy="130.7" r="1.3"/>
<circle cx="1041.1" cy="51.5" r="1.3"/>
<circle cx="1039.9" cy="60.1" r="1.3"/>
<circle cx="1038.7" cy="68.7" r="1.3"/>
<circle cx="1037.5" cy="77.3" r="1.3"/>
<circle cx="1036.3" cy="85.9" r="1.3"/>
<circle cx="1035.1" cy="94.5" r="1.3"/>
<circle cx="1033.9" cy="103.1" r="1.3"/>
<circle cx="1032.7" cy="111.7" r="1.3"/>
<circle cx="1031.5" cy="120.3" r="1.3"/>
<circle cx="1030.3" cy="128.9" r="1.3"/>
<circle cx="1046.7" cy="49.8" r="1.3"/>
<circle cx="1045.5" cy="58.4" r="1.3"/>
<circle cx="1044.3" cy="67.0" r="1.3"/>
<circle cx="1043.1" cy="75.6" r="1.3"/>
<circle cx="1041.9" cy="84.2" r="1.3"/>
<circle cx="1040.7" cy="92.8" r="1.3"/>
<circle cx="1039.5" cy="101.4" r="1.3"/>
<circle cx="1038.3" cy="110.0" r="1.3"/>
<circle cx="1037.1" cy="118.6" r="1.3"/>
<circle cx="1035.9" cy="127.2" r="1.3"/>
<circle cx="1052.1" cy="48.1" r="1.3"/>
<circle cx="1050.9" cy="56.7" r="1.3"/>
<circle cx="1049.7" cy="65.3" r="1.3"/>
<circle cx="1048.5" cy="73.9" r="1.3"/>
<circle cx="1047.3" cy="82.5" r="1.3"/>
<circle cx="1046.1" cy="91.1" r="1.3"/>
<circle cx="1044.9" cy="99.7" r="1.3"/>
<circle cx="1043.7" cy="108.3" r="1.3"/>
<circle cx="1042.5" cy="116.9" r="1.3"/>
<circle cx="1041.3" cy="125.5" r="1.3"/>
<circle cx="1057.5" cy="46.5" r="1.3"/>
<circle cx="1056.3" cy="55.1" r="1.3"/>
<circle cx="1055.1" cy="63.7" r="1.3"/>
<circle cx="1053.9" cy="72.2" r="1.3"/>
<circle cx="1052.7" cy="80.9" r="1.3"/>
<circle cx="1051.5" cy="89.5" r="1.3"/>
<circle cx="1050.3" cy="98.1" r="1.3"/>
<circle cx="1049.1" cy="106.7" r="1.3"/>
<circle cx="1047.9" cy="115.2" r="1.3"/>
<circle cx="1046.7" cy="123.8" r="1.3"/>
<circle cx="1062.7" cy="44.8" r="1.3"/>
<circle cx="1061.5" cy="53.4" r="1.3"/>
<circle cx="1060.3" cy="62.0" r="1.3"/>
<circle cx="1059.1" cy="70.6" r="1.3"/>
<circle cx="1057.9" cy="79.2" r="1.3"/>
<circle cx="1056.7" cy="87.8" r="1.3"/>
<circle cx="1055.5" cy="96.4" r="1.3"/>
<circle cx="1054.3" cy="105.0" r="1.3"/>
<circle cx="1053.1" cy="113.6" r="1.3"/>
<circle cx="1051.9" cy="122.2" r="1.3"/>
</g>
<polygon points="687.0,211.0 800.0,172.0 1021.0,106.0 1021.0,117.0 800.0,183.0 687.0,222.0" fill="#ede2c6" />
<polygon points="629.0,189.0 687.0,211.0 687.0,221.0 629.0,198.0" fill="#e3d6ba" />
<g stroke="#6e5b47" stroke-width="1.6">
<line x1="694.0" y1="210.1" x2="694.0" y2="219.6"/>
<line x1="704.3" y1="206.5" x2="704.3" y2="216.0"/>
<line x1="714.6" y1="203.0" x2="714.6" y2="212.5"/>
<line x1="724.9" y1="199.4" x2="724.9" y2="208.9"/>
<line x1="735.2" y1="195.9" x2="735.2" y2="205.4"/>
<line x1="745.5" y1="192.3" x2="745.5" y2="201.8"/>
<line x1="755.8" y1="188.8" x2="755.8" y2="198.3"/>
<line x1="766.1" y1="185.2" x2="766.1" y2="194.7"/>
<line x1="776.4" y1="181.6" x2="776.4" y2="191.1"/>
<line x1="786.7" y1="178.1" x2="786.7" y2="187.6"/>
<line x1="797.0" y1="174.5" x2="797.0" y2="184.0"/>
<line x1="807.3" y1="171.3" x2="807.3" y2="180.8"/>
<line x1="817.6" y1="168.2" x2="817.6" y2="177.7"/>
<line x1="827.9" y1="165.2" x2="827.9" y2="174.7"/>
<line x1="838.2" y1="162.1" x2="838.2" y2="171.6"/>
<line x1="848.5" y1="159.0" x2="848.5" y2="168.5"/>
<line x1="858.8" y1="155.9" x2="858.8" y2="165.4"/>
<line x1="869.1" y1="152.9" x2="869.1" y2="162.4"/>
<line x1="879.4" y1="149.8" x2="879.4" y2="159.3"/>
<line x1="889.7" y1="146.7" x2="889.7" y2="156.2"/>
<line x1="900.0" y1="143.6" x2="900.0" y2="153.1"/>
<line x1="910.3" y1="140.6" x2="910.3" y2="150.1"/>
<line x1="920.6" y1="137.5" x2="920.6" y2="147.0"/>
<line x1="930.9" y1="134.4" x2="930.9" y2="143.9"/>
<line x1="941.2" y1="131.3" x2="941.2" y2="140.8"/>
<line x1="951.5" y1="128.3" x2="951.5" y2="137.8"/>
<line x1="961.8" y1="125.2" x2="961.8" y2="134.7"/>
<line x1="972.1" y1="122.1" x2="972.1" y2="131.6"/>
<line x1="982.4" y1="119.0" x2="982.4" y2="128.5"/>
<line x1="992.7" y1="116.0" x2="992.7" y2="125.5"/>
<line x1="1003.0" y1="112.9" x2="1003.0" y2="122.4"/>
<line x1="1013.3" y1="109.8" x2="1013.3" y2="119.3"/>
<line x1="645.0" y1="194.8" x2="645.0" y2="202.3"/>
<line x1="655.0" y1="199.1" x2="655.0" y2="206.6"/>
<line x1="665.0" y1="203.5" x2="665.0" y2="211.0"/>
<line x1="675.0" y1="207.8" x2="675.0" y2="215.3"/>
<line x1="685.0" y1="212.1" x2="685.0" y2="219.6"/>
</g>
<polygon points="629.0,196.0 687.0,222.0 800.0,183.0 1021.0,117.0 1021.0,154.0 738.0,257.0 800.0,300.0 632.0,230.0" fill="#946f4c" filter="url(#tCoir)"/>
<polygon points="738.0,257.0 1021.0,154.0 1021.0,196.0 784.0,284.0 800.0,300.0 700.0,260.0" fill="#777c89" filter="url(#tFelt)"/>
<line x1="736" y1="257" x2="1021" y2="154" stroke="#5b4a3a" stroke-width="1.2" opacity="0.6"/>
<polygon points="790.0,300.0 1021.0,200.0 1021.0,314.0 849.0,396.0 829.0,380.0" fill="#777c89" filter="url(#tFelt)"/>
<polygon points="784.0,284.0 1021.0,195.0 1021.0,240.0 840.0,320.0" fill="#5f636b" filter="url(#blur1)"/>
<line x1="784" y1="285" x2="1021" y2="196" stroke="#474a52" stroke-width="2.2"/>
<g clip-path="url(#cpSprings)">
<path d="M1010.5,199.0 L1010.5,244.0 A13.5,6.6 0 0 0 1037.5,244.0 L1037.5,199.0 Z" fill="url(#gSpring)"/>
<path d="M1013.0,213.0 Q1024.0,218.0 1035.0,213.0" stroke="#b0b0b0" stroke-width="2" fill="none" opacity="0.35" filter="url(#blur1)"/>
<path d="M1013.0,227.0 Q1024.0,230.0 1035.0,223.0" stroke="#b0b0b0" stroke-width="2" fill="none" opacity="0.35" filter="url(#blur1)"/>
<ellipse cx="1024.0" cy="199.0" rx="15.0" ry="6.6" fill="url(#gCap)" stroke="#a0a0a0" stroke-width="0.8"/>
<ellipse cx="1025.0" cy="200.0" rx="10.0" ry="3.6" fill="none" stroke="#d0d0d0" stroke-width="1" opacity="0.8"/>
<path d="M994.5,207.0 L994.5,252.0 A13.5,6.6 0 0 0 1021.5,252.0 L1021.5,207.0 Z" fill="url(#gSpring)"/>
<path d="M997.0,221.0 Q1008.0,226.0 1019.0,221.0" stroke="#b0b0b0" stroke-width="2" fill="none" opacity="0.35" filter="url(#blur1)"/>
<path d="M997.0,235.0 Q1008.0,238.0 1019.0,231.0" stroke="#b0b0b0" stroke-width="2" fill="none" opacity="0.35" filter="url(#blur1)"/>
<ellipse cx="1008.0" cy="207.0" rx="15.0" ry="6.6" fill="url(#gCap)" stroke="#a0a0a0" stroke-width="0.8"/>
<ellipse cx="1009.0" cy="208.0" rx="10.0" ry="3.6" fill="none" stroke="#d0d0d0" stroke-width="1" opacity="0.8"/>
<path d="M976.5,213.5 L976.5,258.5 A13.5,6.6 0 0 0 1003.5,258.5 L1003.5,213.5 Z" fill="url(#gSpring)"/>
<path d="M979.0,227.5 Q990.0,232.5 1001.0,227.5" stroke="#b0b0b0" stroke-width="2" fill="none" opacity="0.35" filter="url(#blur1)"/>
<path d="M979.0,241.5 Q990.0,244.5 1001.0,237.5" stroke="#b0b0b0" stroke-width="2" fill="none" opacity="0.35" filter="url(#blur1)"/>
<ellipse cx="990.0" cy="213.5" rx="15.0" ry="6.6" fill="url(#gCap)" stroke="#a0a0a0" stroke-width="0.8"/>
<ellipse cx="991.0" cy="214.5" rx="10.0" ry="3.6" fill="none" stroke="#d0d0d0" stroke-width="1" opacity="0.8"/>
<path d="M958.5,221.0 L958.5,266.0 A13.5,6.6 0 0 0 985.5,266.0 L985.5,221.0 Z" fill="url(#gSpring)"/>
<path d="M961.0,235.0 Q972.0,240.0 983.0,235.0" stroke="#b0b0b0" stroke-width="2" fill="none" opacity="0.35" filter="url(#blur1)"/>
<path d="M961.0,249.0 Q972.0,252.0 983.0,245.0" stroke="#b0b0b0" stroke-width="2" fill="none" opacity="0.35" filter="url(#blur1)"/>
<ellipse cx="972.0" cy="221.0" rx="15.0" ry="6.6" fill="url(#gCap)" stroke="#a0a0a0" stroke-width="0.8"/>
<ellipse cx="973.0" cy="222.0" rx="10.0" ry="3.6" fill="none" stroke="#d0d0d0" stroke-width="1" opacity="0.8"/>
<path d="M938.5,229.0 L938.5,274.0 A13.5,6.6 0 0 0 965.5,274.0 L965.5,229.0 Z" fill="url(#gSpring)"/>
<path d="M941.0,243.0 Q952.0,248.0 963.0,243.0" stroke="#b0b0b0" stroke-width="2" fill="none" opacity="0.35" filter="url(#blur1)"/>
<path d="M941.0,257.0 Q952.0,260.0 963.0,253.0" stroke="#b0b0b0" stroke-width="2" fill="none" opacity="0.35" filter="url(#blur1)"/>
<ellipse cx="952.0" cy="229.0" rx="15.0" ry="6.6" fill="url(#gCap)" stroke="#a0a0a0" stroke-width="0.8"/>
<ellipse cx="953.0" cy="230.0" rx="10.0" ry="3.6" fill="none" stroke="#d0d0d0" stroke-width="1" opacity="0.8"/>
<path d="M918.5,237.0 L918.5,282.0 A13.5,6.6 0 0 0 945.5,282.0 L945.5,237.0 Z" fill="url(#gSpring)"/>
<path d="M921.0,251.0 Q932.0,256.0 943.0,251.0" stroke="#b0b0b0" stroke-width="2" fill="none" opacity="0.35" filter="url(#blur1)"/>
<path d="M921.0,265.0 Q932.0,268.0 943.0,261.0" stroke="#b0b0b0" stroke-width="2" fill="none" opacity="0.35" filter="url(#blur1)"/>
<ellipse cx="932.0" cy="237.0" rx="15.0" ry="6.6" fill="url(#gCap)" stroke="#a0a0a0" stroke-width="0.8"/>
<ellipse cx="933.0" cy="238.0" rx="10.0" ry="3.6" fill="none" stroke="#d0d0d0" stroke-width="1" opacity="0.8"/>
<path d="M898.5,245.0 L898.5,290.0 A13.5,6.6 0 0 0 925.5,290.0 L925.5,245.0 Z" fill="url(#gSpring)"/>
<path d="M901.0,259.0 Q912.0,264.0 923.0,259.0" stroke="#b0b0b0" stroke-width="2" fill="none" opacity="0.35" filter="url(#blur1)"/>
<path d="M901.0,273.0 Q912.0,276.0 923.0,269.0" stroke="#b0b0b0" stroke-width="2" fill="none" opacity="0.35" filter="url(#blur1)"/>
<ellipse cx="912.0" cy="245.0" rx="15.0" ry="6.6" fill="url(#gCap)" stroke="#a0a0a0" stroke-width="0.8"/>
<ellipse cx="913.0" cy="246.0" rx="10.0" ry="3.6" fill="none" stroke="#d0d0d0" stroke-width="1" opacity="0.8"/>
<path d="M876.5,254.0 L876.5,299.0 A13.5,6.6 0 0 0 903.5,299.0 L903.5,254.0 Z" fill="url(#gSpring)"/>
<path d="M879.0,268.0 Q890.0,273.0 901.0,268.0" stroke="#b0b0b0" stroke-width="2" fill="none" opacity="0.35" filter="url(#blur1)"/>
<path d="M879.0,282.0 Q890.0,285.0 901.0,278.0" stroke="#b0b0b0" stroke-width="2" fill="none" opacity="0.35" filter="url(#blur1)"/>
<ellipse cx="890.0" cy="254.0" rx="15.0" ry="6.6" fill="url(#gCap)" stroke="#a0a0a0" stroke-width="0.8"/>
<ellipse cx="891.0" cy="255.0" rx="10.0" ry="3.6" fill="none" stroke="#d0d0d0" stroke-width="1" opacity="0.8"/>
<path d="M855.5,263.0 L855.5,308.0 A13.5,6.6 0 0 0 882.5,308.0 L882.5,263.0 Z" fill="url(#gSpring)"/>
<path d="M858.0,277.0 Q869.0,282.0 880.0,277.0" stroke="#b0b0b0" stroke-width="2" fill="none" opacity="0.35" filter="url(#blur1)"/>
<path d="M858.0,291.0 Q869.0,294.0 880.0,287.0" stroke="#b0b0b0" stroke-width="2" fill="none" opacity="0.35" filter="url(#blur1)"/>
<ellipse cx="869.0" cy="263.0" rx="15.0" ry="6.6" fill="url(#gCap)" stroke="#a0a0a0" stroke-width="0.8"/>
<ellipse cx="870.0" cy="264.0" rx="10.0" ry="3.6" fill="none" stroke="#d0d0d0" stroke-width="1" opacity="0.8"/>
<path d="M835.5,273.0 L835.5,318.0 A13.5,6.6 0 0 0 862.5,318.0 L862.5,273.0 Z" fill="url(#gSpring)"/>
<path d="M838.0,287.0 Q849.0,292.0 860.0,287.0" stroke="#b0b0b0" stroke-width="2" fill="none" opacity="0.35" filter="url(#blur1)"/>
<path d="M838.0,301.0 Q849.0,304.0 860.0,297.0" stroke="#b0b0b0" stroke-width="2" fill="none" opacity="0.35" filter="url(#blur1)"/>
<ellipse cx="849.0" cy="273.0" rx="15.0" ry="6.6" fill="url(#gCap)" stroke="#a0a0a0" stroke-width="0.8"/>
<ellipse cx="850.0" cy="274.0" rx="10.0" ry="3.6" fill="none" stroke="#d0d0d0" stroke-width="1" opacity="0.8"/>
<path d="M1018.5,216.0 L1018.5,280.0 A13.5,6.6 0 0 0 1045.5,280.0 L1045.5,216.0 Z" fill="url(#gSpring)"/>
<path d="M1021.0,230.0 Q1032.0,235.0 1043.0,230.0" stroke="#b0b0b0" stroke-width="2" fill="none" opacity="0.35" filter="url(#blur1)"/>
<path d="M1021.0,244.0 Q1032.0,247.0 1043.0,240.0" stroke="#b0b0b0" stroke-width="2" fill="none" opacity="0.35" filter="url(#blur1)"/>
<path d="M1021.0,254.0 Q1032.0,259.0 1043.0,254.0" stroke="#b0b0b0" stroke-width="2" fill="none" opacity="0.35" filter="url(#blur1)"/>
<path d="M1021.0,268.0 Q1032.0,271.0 1043.0,264.0" stroke="#b0b0b0" stroke-width="2" fill="none" opacity="0.35" filter="url(#blur1)"/>
<ellipse cx="1032.0" cy="216.0" rx="15.0" ry="6.6" fill="url(#gCap)" stroke="#a0a0a0" stroke-width="0.8"/>
<ellipse cx="1033.0" cy="217.0" rx="10.0" ry="3.6" fill="none" stroke="#d0d0d0" stroke-width="1" opacity="0.8"/>
<path d="M1001.5,224.0 L1001.5,288.0 A13.5,6.6 0 0 0 1028.5,288.0 L1028.5,224.0 Z" fill="url(#gSpring)"/>
<path d="M1004.0,238.0 Q1015.0,243.0 1026.0,238.0" stroke="#b0b0b0" stroke-width="2" fill="none" opacity="0.35" filter="url(#blur1)"/>
<path d="M1004.0,252.0 Q1015.0,255.0 1026.0,248.0" stroke="#b0b0b0" stroke-width="2" fill="none" opacity="0.35" filter="url(#blur1)"/>
<path d="M1004.0,262.0 Q1015.0,267.0 1026.0,262.0" stroke="#b0b0b0" stroke-width="2" fill="none" opacity="0.35" filter="url(#blur1)"/>
<path d="M1004.0,276.0 Q1015.0,279.0 1026.0,272.0" stroke="#b0b0b0" stroke-width="2" fill="none" opacity="0.35" filter="url(#blur1)"/>
<ellipse cx="1015.0" cy="224.0" rx="15.0" ry="6.6" fill="url(#gCap)" stroke="#a0a0a0" stroke-width="0.8"/>
<ellipse cx="1016.0" cy="225.0" rx="10.0" ry="3.6" fill="none" stroke="#d0d0d0" stroke-width="1" opacity="0.8"/>
<path d="M983.5,231.0 L983.5,295.0 A13.5,6.6 0 0 0 1010.5,295.0 L1010.5,231.0 Z" fill="url(#gSpring)"/>
<path d="M986.0,245.0 Q997.0,250.0 1008.0,245.0" stroke="#b0b0b0" stroke-width="2" fill="none" opacity="0.35" filter="url(#blur1)"/>
<path d="M986.0,259.0 Q997.0,262.0 1008.0,255.0" stroke="#b0b0b0" stroke-width="2" fill="none" opacity="0.35" filter="url(#blur1)"/>
<path d="M986.0,269.0 Q997.0,274.0 1008.0,269.0" stroke="#b0b0b0" stroke-width="2" fill="none" opacity="0.35" filter="url(#blur1)"/>
<path d="M986.0,283.0 Q997.0,286.0 1008.0,279.0" stroke="#b0b0b0" stroke-width="2" fill="none" opacity="0.35" filter="url(#blur1)"/>
<ellipse cx="997.0" cy="231.0" rx="15.0" ry="6.6" fill="url(#gCap)" stroke="#a0a0a0" stroke-width="0.8"/>
<ellipse cx="998.0" cy="232.0" rx="10.0" ry="3.6" fill="none" stroke="#d0d0d0" stroke-width="1" opacity="0.8"/>
<path d="M964.5,239.0 L964.5,303.0 A13.5,6.6 0 0 0 991.5,303.0 L991.5,239.0 Z" fill="url(#gSpring)"/>
<path d="M967.0,253.0 Q978.0,258.0 989.0,253.0" stroke="#b0b0b0" stroke-width="2" fill="none" opacity="0.35" filter="url(#blur1)"/>
<path d="M967.0,267.0 Q978.0,270.0 989.0,263.0" stroke="#b0b0b0" stroke-width="2" fill="none" opacity="0.35" filter="url(#blur1)"/>
<path d="M967.0,277.0 Q978.0,282.0 989.0,277.0" stroke="#b0b0b0" stroke-width="2" fill="none" opacity="0.35" filter="url(#blur1)"/>
<path d="M967.0,291.0 Q978.0,294.0 989.0,287.0" stroke="#b0b0b0" stroke-width="2" fill="none" opacity="0.35" filter="url(#blur1)"/>
<ellipse cx="978.0" cy="239.0" rx="15.0" ry="6.6" fill="url(#gCap)" stroke="#a0a0a0" stroke-width="0.8"/>
<ellipse cx="979.0" cy="240.0" rx="10.0" ry="3.6" fill="none" stroke="#d0d0d0" stroke-width="1" opacity="0.8"/>
<path d="M945.5,248.0 L945.5,312.0 A13.5,6.6 0 0 0 972.5,312.0 L972.5,248.0 Z" fill="url(#gSpring)"/>
<path d="M948.0,262.0 Q959.0,267.0 970.0,262.0" stroke="#b0b0b0" stroke-width="2" fill="none" opacity="0.35" filter="url(#blur1)"/>
<path d="M948.0,276.0 Q959.0,279.0 970.0,272.0" stroke="#b0b0b0" stroke-width="2" fill="none" opacity="0.35" filter="url(#blur1)"/>
<path d="M948.0,286.0 Q959.0,291.0 970.0,286.0" stroke="#b0b0b0" stroke-width="2" fill="none" opacity="0.35" filter="url(#blur1)"/>
<path d="M948.0,300.0 Q959.0,303.0 970.0,296.0" stroke="#b0b0b0" stroke-width="2" fill="none" opacity="0.35" filter="url(#blur1)"/>
<ellipse cx="959.0" cy="248.0" rx="15.0" ry="6.6" fill="url(#gCap)" stroke="#a0a0a0" stroke-width="0.8"/>
<ellipse cx="960.0" cy="249.0" rx="10.0" ry="3.6" fill="none" stroke="#d0d0d0" stroke-width="1" opacity="0.8"/>
<path d="M923.5,257.0 L923.5,321.0 A13.5,6.6 0 0 0 950.5,321.0 L950.5,257.0 Z" fill="url(#gSpring)"/>
<path d="M926.0,271.0 Q937.0,276.0 948.0,271.0" stroke="#b0b0b0" stroke-width="2" fill="none" opacity="0.35" filter="url(#blur1)"/>
<path d="M926.0,285.0 Q937.0,288.0 948.0,281.0" stroke="#b0b0b0" stroke-width="2" fill="none" opacity="0.35" filter="url(#blur1)"/>
<path d="M926.0,295.0 Q937.0,300.0 948.0,295.0" stroke="#b0b0b0" stroke-width="2" fill="none" opacity="0.35" filter="url(#blur1)"/>
<path d="M926.0,309.0 Q937.0,312.0 948.0,305.0" stroke="#b0b0b0" stroke-width="2" fill="none" opacity="0.35" filter="url(#blur1)"/>
<ellipse cx="937.0" cy="257.0" rx="15.0" ry="6.6" fill="url(#gCap)" stroke="#a0a0a0" stroke-width="0.8"/>
<ellipse cx="938.0" cy="258.0" rx="10.0" ry="3.6" fill="none" stroke="#d0d0d0" stroke-width="1" opacity="0.8"/>
<path d="M902.5,267.0 L902.5,331.0 A13.5,6.6 0 0 0 929.5,331.0 L929.5,267.0 Z" fill="url(#gSpring)"/>
<path d="M905.0,281.0 Q916.0,286.0 927.0,281.0" stroke="#b0b0b0" stroke-width="2" fill="none" opacity="0.35" filter="url(#blur1)"/>
<path d="M905.0,295.0 Q916.0,298.0 927.0,291.0" stroke="#b0b0b0" stroke-width="2" fill="none" opacity="0.35" filter="url(#blur1)"/>
<path d="M905.0,305.0 Q916.0,310.0 927.0,305.0" stroke="#b0b0b0" stroke-width="2" fill="none" opacity="0.35" filter="url(#blur1)"/>
<path d="M905.0,319.0 Q916.0,322.0 927.0,315.0" stroke="#b0b0b0" stroke-width="2" fill="none" opacity="0.35" filter="url(#blur1)"/>
<ellipse cx="916.0" cy="267.0" rx="15.0" ry="6.6" fill="url(#gCap)" stroke="#a0a0a0" stroke-width="0.8"/>
<ellipse cx="917.0" cy="268.0" rx="10.0" ry="3.6" fill="none" stroke="#d0d0d0" stroke-width="1" opacity="0.8"/>
<path d="M879.5,275.0 L879.5,339.0 A13.5,6.6 0 0 0 906.5,339.0 L906.5,275.0 Z" fill="url(#gSpring)"/>
<path d="M882.0,289.0 Q893.0,294.0 904.0,289.0" stroke="#b0b0b0" stroke-width="2" fill="none" opacity="0.35" filter="url(#blur1)"/>
<path d="M882.0,303.0 Q893.0,306.0 904.0,299.0" stroke="#b0b0b0" stroke-width="2" fill="none" opacity="0.35" filter="url(#blur1)"/>
<path d="M882.0,313.0 Q893.0,318.0 904.0,313.0" stroke="#b0b0b0" stroke-width="2" fill="none" opacity="0.35" filter="url(#blur1)"/>
<path d="M882.0,327.0 Q893.0,330.0 904.0,323.0" stroke="#b0b0b0" stroke-width="2" fill="none" opacity="0.35" filter="url(#blur1)"/>
<ellipse cx="893.0" cy="275.0" rx="15.0" ry="6.6" fill="url(#gCap)" stroke="#a0a0a0" stroke-width="0.8"/>
<ellipse cx="894.0" cy="276.0" rx="10.0" ry="3.6" fill="none" stroke="#d0d0d0" stroke-width="1" opacity="0.8"/>
<path d="M858.5,285.0 L858.5,349.0 A13.5,6.6 0 0 0 885.5,349.0 L885.5,285.0 Z" fill="url(#gSpring)"/>
<path d="M861.0,299.0 Q872.0,304.0 883.0,299.0" stroke="#b0b0b0" stroke-width="2" fill="none" opacity="0.35" filter="url(#blur1)"/>
<path d="M861.0,313.0 Q872.0,316.0 883.0,309.0" stroke="#b0b0b0" stroke-width="2" fill="none" opacity="0.35" filter="url(#blur1)"/>
<path d="M861.0,323.0 Q872.0,328.0 883.0,323.0" stroke="#b0b0b0" stroke-width="2" fill="none" opacity="0.35" filter="url(#blur1)"/>
<path d="M861.0,337.0 Q872.0,340.0 883.0,333.0" stroke="#b0b0b0" stroke-width="2" fill="none" opacity="0.35" filter="url(#blur1)"/>
<ellipse cx="872.0" cy="285.0" rx="15.0" ry="6.6" fill="url(#gCap)" stroke="#a0a0a0" stroke-width="0.8"/>
<ellipse cx="873.0" cy="286.0" rx="10.0" ry="3.6" fill="none" stroke="#d0d0d0" stroke-width="1" opacity="0.8"/>
</g>
<polygon points="849.0,396.0 1021.0,314.0 1021.0,359.0 897.0,427.0 860.0,410.0" fill="#946f4c" filter="url(#tCoir)"/>
<polygon points="897.0,427.0 1021.0,359.0 1021.0,432.5 944.8,456.0" fill="#efe1c3" />
<clipPath id="cpLL"><polygon points="897.0,427.0 1021.0,359.0 1021.0,432.5 944.8,456.0"/></clipPath>
<g clip-path="url(#cpLL)" fill="#7d6a50">
<circle cx="800.0" cy="396.0" r="1.35"/>
<circle cx="813.0" cy="403.7" r="1.35"/>
<circle cx="826.0" cy="411.4" r="1.35"/>
<circle cx="839.0" cy="419.1" r="1.35"/>
<circle cx="852.0" cy="426.8" r="1.35"/>
<circle cx="865.0" cy="434.5" r="1.35"/>
<circle cx="878.0" cy="442.2" r="1.35"/>
<circle cx="891.0" cy="449.9" r="1.35"/>
<circle cx="904.0" cy="457.6" r="1.35"/>
<circle cx="917.0" cy="465.3" r="1.35"/>
<circle cx="930.0" cy="473.0" r="1.35"/>
<circle cx="943.0" cy="480.7" r="1.35"/>
<circle cx="956.0" cy="488.4" r="1.35"/>
<circle cx="969.0" cy="496.1" r="1.35"/>
<circle cx="811.0" cy="390.1" r="1.35"/>
<circle cx="824.0" cy="397.8" r="1.35"/>
<circle cx="837.0" cy="405.5" r="1.35"/>
<circle cx="850.0" cy="413.2" r="1.35"/>
<circle cx="863.0" cy="420.9" r="1.35"/>
<circle cx="876.0" cy="428.6" r="1.35"/>
<circle cx="889.0" cy="436.3" r="1.35"/>
<circle cx="902.0" cy="444.0" r="1.35"/>
<circle cx="915.0" cy="451.7" r="1.35"/>
<circle cx="928.0" cy="459.4" r="1.35"/>
<circle cx="941.0" cy="467.1" r="1.35"/>
<circle cx="954.0" cy="474.8" r="1.35"/>
<circle cx="967.0" cy="482.5" r="1.35"/>
<circle cx="980.0" cy="490.2" r="1.35"/>
<circle cx="822.0" cy="384.2" r="1.35"/>
<circle cx="835.0" cy="391.9" r="1.35"/>
<circle cx="848.0" cy="399.6" r="1.35"/>
<circle cx="861.0" cy="407.3" r="1.35"/>
<circle cx="874.0" cy="415.0" r="1.35"/>
<circle cx="887.0" cy="422.7" r="1.35"/>
<circle cx="900.0" cy="430.4" r="1.35"/>
<circle cx="913.0" cy="438.1" r="1.35"/>
<circle cx="926.0" cy="445.8" r="1.35"/>
<circle cx="939.0" cy="453.5" r="1.35"/>
<circle cx="952.0" cy="461.2" r="1.35"/>
<circle cx="965.0" cy="468.9" r="1.35"/>
<circle cx="978.0" cy="476.6" r="1.35"/>
<circle cx="991.0" cy="484.3" r="1.35"/>
<circle cx="833.0" cy="378.3" r="1.35"/>
<circle cx="846.0" cy="386.0" r="1.35"/>
<circle cx="859.0" cy="393.7" r="1.35"/>
<circle cx="872.0" cy="401.4" r="1.35"/>
<circle cx="885.0" cy="409.1" r="1.35"/>
<circle cx="898.0" cy="416.8" r="1.35"/>
<circle cx="911.0" cy="424.5" r="1.35"/>
<circle cx="924.0" cy="432.2" r="1.35"/>
<circle cx="937.0" cy="439.9" r="1.35"/>
<circle cx="950.0" cy="447.6" r="1.35"/>
<circle cx="963.0" cy="455.3" r="1.35"/>
<circle cx="976.0" cy="463.0" r="1.35"/>
<circle cx="989.0" cy="470.7" r="1.35"/>
<circle cx="1002.0" cy="478.4" r="1.35"/>
<circle cx="844.0" cy="372.4" r="1.35"/>
<circle cx="857.0" cy="380.1" r="1.35"/>
<circle cx="870.0" cy="387.8" r="1.35"/>
<circle cx="883.0" cy="395.5" r="1.35"/>
<circle cx="896.0" cy="403.2" r="1.35"/>
<circle cx="909.0" cy="410.9" r="1.35"/>
<circle cx="922.0" cy="418.6" r="1.35"/>
<circle cx="935.0" cy="426.3" r="1.35"/>
<circle cx="948.0" cy="434.0" r="1.35"/>
<circle cx="961.0" cy="441.7" r="1.35"/>
<circle cx="974.0" cy="449.4" r="1.35"/>
<circle cx="987.0" cy="457.1" r="1.35"/>
<circle cx="1000.0" cy="464.8" r="1.35"/>
<circle cx="1013.0" cy="472.5" r="1.35"/>
<circle cx="855.0" cy="366.5" r="1.35"/>
<circle cx="868.0" cy="374.2" r="1.35"/>
<circle cx="881.0" cy="381.9" r="1.35"/>
<circle cx="894.0" cy="389.6" r="1.35"/>
<circle cx="907.0" cy="397.3" r="1.35"/>
<circle cx="920.0" cy="405.0" r="1.35"/>
<circle cx="933.0" cy="412.7" r="1.35"/>
<circle cx="946.0" cy="420.4" r="1.35"/>
<circle cx="959.0" cy="428.1" r="1.35"/>
<circle cx="972.0" cy="435.8" r="1.35"/>
<circle cx="985.0" cy="443.5" r="1.35"/>
<circle cx="998.0" cy="451.2" r="1.35"/>
<circle cx="1011.0" cy="458.9" r="1.35"/>
<circle cx="1024.0" cy="466.6" r="1.35"/>
<circle cx="866.0" cy="360.6" r="1.35"/>
<circle cx="879.0" cy="368.3" r="1.35"/>
<circle cx="892.0" cy="376.0" r="1.35"/>
<circle cx="905.0" cy="383.7" r="1.35"/>
<circle cx="918.0" cy="391.4" r="1.35"/>
<circle cx="931.0" cy="399.1" r="1.35"/>
<circle cx="944.0" cy="406.8" r="1.35"/>
<circle cx="957.0" cy="414.5" r="1.35"/>
<circle cx="970.0" cy="422.2" r="1.35"/>
<circle cx="983.0" cy="429.9" r="1.35"/>
<circle cx="996.0" cy="437.6" r="1.35"/>
<circle cx="1009.0" cy="445.3" r="1.35"/>
<circle cx="1022.0" cy="453.0" r="1.35"/>
<circle cx="1035.0" cy="460.7" r="1.35"/>
<circle cx="877.0" cy="354.7" r="1.35"/>
<circle cx="890.0" cy="362.4" r="1.35"/>
<circle cx="903.0" cy="370.1" r="1.35"/>
<circle cx="916.0" cy="377.8" r="1.35"/>
<circle cx="929.0" cy="385.5" r="1.35"/>
<circle cx="942.0" cy="393.2" r="1.35"/>
<circle cx="955.0" cy="400.9" r="1.35"/>
<circle cx="968.0" cy="408.6" r="1.35"/>
<circle cx="981.0" cy="416.3" r="1.35"/>
<circle cx="994.0" cy="424.0" r="1.35"/>
<circle cx="1007.0" cy="431.7" r="1.35"/>
<circle cx="1020.0" cy="439.4" r="1.35"/>
<circle cx="1033.0" cy="447.1" r="1.35"/>
<circle cx="1046.0" cy="454.8" r="1.35"/>
<circle cx="888.0" cy="348.8" r="1.35"/>
<circle cx="901.0" cy="356.5" r="1.35"/>
<circle cx="914.0" cy="364.2" r="1.35"/>
<circle cx="927.0" cy="371.9" r="1.35"/>
<circle cx="940.0" cy="379.6" r="1.35"/>
<circle cx="953.0" cy="387.3" r="1.35"/>
<circle cx="966.0" cy="395.0" r="1.35"/>
<circle cx="979.0" cy="402.7" r="1.35"/>
<circle cx="992.0" cy="410.4" r="1.35"/>
<circle cx="1005.0" cy="418.1" r="1.35"/>
<circle cx="1018.0" cy="425.8" r="1.35"/>
<circle cx="1031.0" cy="433.5" r="1.35"/>
<circle cx="1044.0" cy="441.2" r="1.35"/>
<circle cx="1057.0" cy="448.9" r="1.35"/>
<circle cx="899.0" cy="342.9" r="1.35"/>
<circle cx="912.0" cy="350.6" r="1.35"/>
<circle cx="925.0" cy="358.3" r="1.35"/>
<circle cx="938.0" cy="366.0" r="1.35"/>
<circle cx="951.0" cy="373.7" r="1.35"/>
<circle cx="964.0" cy="381.4" r="1.35"/>
<circle cx="977.0" cy="389.1" r="1.35"/>
<circle cx="990.0" cy="396.8" r="1.35"/>
<circle cx="1003.0" cy="404.5" r="1.35"/>
<circle cx="1016.0" cy="412.2" r="1.35"/>
<circle cx="1029.0" cy="419.9" r="1.35"/>
<circle cx="1042.0" cy="427.6" r="1.35"/>
<circle cx="1055.0" cy="435.3" r="1.35"/>
<circle cx="1068.0" cy="443.0" r="1.35"/>
<circle cx="910.0" cy="337.0" r="1.35"/>
<circle cx="923.0" cy="344.7" r="1.35"/>
<circle cx="936.0" cy="352.4" r="1.35"/>
<circle cx="949.0" cy="360.1" r="1.35"/>
<circle cx="962.0" cy="367.8" r="1.35"/>
<circle cx="975.0" cy="375.5" r="1.35"/>
<circle cx="988.0" cy="383.2" r="1.35"/>
<circle cx="1001.0" cy="390.9" r="1.35"/>
<circle cx="1014.0" cy="398.6" r="1.35"/>
<circle cx="1027.0" cy="406.3" r="1.35"/>
<circle cx="1040.0" cy="414.0" r="1.35"/>
<circle cx="1053.0" cy="421.7" r="1.35"/>
<circle cx="1066.0" cy="429.4" r="1.35"/>
<circle cx="1079.0" cy="437.1" r="1.35"/>
<circle cx="921.0" cy="331.1" r="1.35"/>
<circle cx="934.0" cy="338.8" r="1.35"/>
<circle cx="947.0" cy="346.5" r="1.35"/>
<circle cx="960.0" cy="354.2" r="1.35"/>
<circle cx="973.0" cy="361.9" r="1.35"/>
<circle cx="986.0" cy="369.6" r="1.35"/>
<circle cx="999.0" cy="377.3" r="1.35"/>
<circle cx="1012.0" cy="385.0" r="1.35"/>
<circle cx="1025.0" cy="392.7" r="1.35"/>
<circle cx="1038.0" cy="400.4" r="1.35"/>
<circle cx="1051.0" cy="408.1" r="1.35"/>
<circle cx="1064.0" cy="415.8" r="1.35"/>
<circle cx="1077.0" cy="423.5" r="1.35"/>
<circle cx="1090.0" cy="431.2" r="1.35"/>
<circle cx="932.0" cy="325.2" r="1.35"/>
<circle cx="945.0" cy="332.9" r="1.35"/>
<circle cx="958.0" cy="340.6" r="1.35"/>
<circle cx="971.0" cy="348.3" r="1.35"/>
<circle cx="984.0" cy="356.0" r="1.35"/>
<circle cx="997.0" cy="363.7" r="1.35"/>
<circle cx="1010.0" cy="371.4" r="1.35"/>
<circle cx="1023.0" cy="379.1" r="1.35"/>
<circle cx="1036.0" cy="386.8" r="1.35"/>
<circle cx="1049.0" cy="394.5" r="1.35"/>
<circle cx="1062.0" cy="402.2" r="1.35"/>
<circle cx="1075.0" cy="409.9" r="1.35"/>
<circle cx="1088.0" cy="417.6" r="1.35"/>
<circle cx="1101.0" cy="425.3" r="1.35"/>
<circle cx="943.0" cy="319.3" r="1.35"/>
<circle cx="956.0" cy="327.0" r="1.35"/>
<circle cx="969.0" cy="334.7" r="1.35"/>
<circle cx="982.0" cy="342.4" r="1.35"/>
<circle cx="995.0" cy="350.1" r="1.35"/>
<circle cx="1008.0" cy="357.8" r="1.35"/>
<circle cx="1021.0" cy="365.5" r="1.35"/>
<circle cx="1034.0" cy="373.2" r="1.35"/>
<circle cx="1047.0" cy="380.9" r="1.35"/>
<circle cx="1060.0" cy="388.6" r="1.35"/>
<circle cx="1073.0" cy="396.3" r="1.35"/>
<circle cx="1086.0" cy="404.0" r="1.35"/>
<circle cx="1099.0" cy="411.7" r="1.35"/>
<circle cx="1112.0" cy="419.4" r="1.35"/>
<circle cx="954.0" cy="313.4" r="1.35"/>
<circle cx="967.0" cy="321.1" r="1.35"/>
<circle cx="980.0" cy="328.8" r="1.35"/>
<circle cx="993.0" cy="336.5" r="1.35"/>
<circle cx="1006.0" cy="344.2" r="1.35"/>
<circle cx="1019.0" cy="351.9" r="1.35"/>
<circle cx="1032.0" cy="359.6" r="1.35"/>
<circle cx="1045.0" cy="367.3" r="1.35"/>
<circle cx="1058.0" cy="375.0" r="1.35"/>
<circle cx="1071.0" cy="382.7" r="1.35"/>
<circle cx="1084.0" cy="390.4" r="1.35"/>
<circle cx="1097.0" cy="398.1" r="1.35"/>
<circle cx="1110.0" cy="405.8" r="1.35"/>
<circle cx="1123.0" cy="413.5" r="1.35"/>
<circle cx="965.0" cy="307.5" r="1.35"/>
<circle cx="978.0" cy="315.2" r="1.35"/>
<circle cx="991.0" cy="322.9" r="1.35"/>
<circle cx="1004.0" cy="330.6" r="1.35"/>
<circle cx="1017.0" cy="338.3" r="1.35"/>
<circle cx="1030.0" cy="346.0" r="1.35"/>
<circle cx="1043.0" cy="353.7" r="1.35"/>
<circle cx="1056.0" cy="361.4" r="1.35"/>
<circle cx="1069.0" cy="369.1" r="1.35"/>
<circle cx="1082.0" cy="376.8" r="1.35"/>
<circle cx="1095.0" cy="384.5" r="1.35"/>
<circle cx="1108.0" cy="392.2" r="1.35"/>
<circle cx="1121.0" cy="399.9" r="1.35"/>
<circle cx="1134.0" cy="407.6" r="1.35"/>
<circle cx="976.0" cy="301.6" r="1.35"/>
<circle cx="989.0" cy="309.3" r="1.35"/>
<circle cx="1002.0" cy="317.0" r="1.35"/>
<circle cx="1015.0" cy="324.7" r="1.35"/>
<circle cx="1028.0" cy="332.4" r="1.35"/>
<circle cx="1041.0" cy="340.1" r="1.35"/>
<circle cx="1054.0" cy="347.8" r="1.35"/>
<circle cx="1067.0" cy="355.5" r="1.35"/>
<circle cx="1080.0" cy="363.2" r="1.35"/>
<circle cx="1093.0" cy="370.9" r="1.35"/>
<circle cx="1106.0" cy="378.6" r="1.35"/>
<circle cx="1119.0" cy="386.3" r="1.35"/>
<circle cx="1132.0" cy="394.0" r="1.35"/>
<circle cx="1145.0" cy="401.7" r="1.35"/>
<circle cx="987.0" cy="295.7" r="1.35"/>
<circle cx="1000.0" cy="303.4" r="1.35"/>
<circle cx="1013.0" cy="311.1" r="1.35"/>
<circle cx="1026.0" cy="318.8" r="1.35"/>
<circle cx="1039.0" cy="326.5" r="1.35"/>
<circle cx="1052.0" cy="334.2" r="1.35"/>
<circle cx="1065.0" cy="341.9" r="1.35"/>
<circle cx="1078.0" cy="349.6" r="1.35"/>
<circle cx="1091.0" cy="357.3" r="1.35"/>
<circle cx="1104.0" cy="365.0" r="1.35"/>
<circle cx="1117.0" cy="372.7" r="1.35"/>
<circle cx="1130.0" cy="380.4" r="1.35"/>
<circle cx="1143.0" cy="388.1" r="1.35"/>
<circle cx="1156.0" cy="395.8" r="1.35"/>
<circle cx="998.0" cy="289.8" r="1.35"/>
<circle cx="1011.0" cy="297.5" r="1.35"/>
<circle cx="1024.0" cy="305.2" r="1.35"/>
<circle cx="1037.0" cy="312.9" r="1.35"/>
<circle cx="1050.0" cy="320.6" r="1.35"/>
<circle cx="1063.0" cy="328.3" r="1.35"/>
<circle cx="1076.0" cy="336.0" r="1.35"/>
<circle cx="1089.0" cy="343.7" r="1.35"/>
<circle cx="1102.0" cy="351.4" r="1.35"/>
<circle cx="1115.0" cy="359.1" r="1.35"/>
<circle cx="1128.0" cy="366.8" r="1.35"/>
<circle cx="1141.0" cy="374.5" r="1.35"/>
<circle cx="1154.0" cy="382.2" r="1.35"/>
<circle cx="1167.0" cy="389.9" r="1.35"/>
</g>
<polygon points="424.0,78.0 430.0,78.0 631.0,184.5 629.0,288.0 425.0,170.0" fill="url(#gSide)" />
<path d="M439,69.5 Q428,71 425,74 Q424,77 430,78 L631,184.5" stroke="#5a4c46" stroke-width="2.8" fill="none" stroke-linejoin="round"/>
<line x1="425.5" y1="80" x2="425.5" y2="167" stroke="#b3aca8" stroke-width="1.5"/>
<polygon points="424.0,167.0 629.0,283.0 629.0,287.5 431.0,174.5 424.0,171.0" fill="#57493f" />
<polygon points="625.0,182.0 631.0,185.0 631.0,287.0 625.0,284.0" fill="#a59d98" />
<polygon points="509,128 558,149 555,210 507,189" fill="#6d645f" opacity="0.35" filter="url(#blur1)"/>
<polygon points="507.0,125.0 555.4,146.0 552.5,206.5 504.5,184.5" fill="#eaf0f3" />
<polygon points="509.0,128.0 553.0,147.5 550.5,204.0 506.5,184.0" fill="none" stroke="#86a7bf" stroke-width="1.5" stroke-dasharray="2,1"/>
<polygon points="507.0,178.0 551.0,196.0 550.5,204.0 506.5,184.0" fill="#a8c4d4" opacity="0.7" filter="url(#blur1)"/>
<polygon points="512.0,180.0 530.0,190.0 548.0,193.0 548.0,200.0 510.0,184.0" fill="#8fb0c4" opacity="0.6" filter="url(#blur1)"/>
<polygon points="522.0,150.0 542.0,158.0 541.5,161.0 521.5,153.0" fill="#c3d2dc" />
<g transform="translate(490,122) rotate(-38)"><path d="M-9,-7 Q-9,-9 -6,-9 L-3,-9 L-3,9 L-6,9 Q-9,9 -9,6 Z" fill="#2f9552"/><rect x="-3" y="-9" width="5" height="18" fill="#f4f4f4"/><path d="M2,-9 L6,-9 Q10,-8 10,0 Q10,8 6,9 L2,9 Z" fill="#d8352e"/></g>
<polygon points="629.0,202.0 830.0,309.0 829.0,379.0 629.0,267.0" fill="#9dc2d3" filter="url(#tFoam)"/>
<line x1="631" y1="203.5" x2="784" y2="285" stroke="#5d6f80" stroke-width="2" opacity="0.75"/>
<polygon points="784.0,284.5 823.0,271.0 870.0,295.0 830.0,309.0" fill="#b5d7e6" />
<polygon points="830.0,309.0 870.0,295.0 865.0,356.0 829.0,379.0" fill="#a8cde0" filter="url(#tFoam)"/>
<polygon points="631.0,267.0 829.0,379.0 849.0,396.0 897.0,427.0 945.0,455.5 945.0,456.6 631.0,270.7" fill="#5f4532" />
<polygon points="631.0,270.7 944.8,456.4 1021.0,432.5 1021.0,440.0 951.0,468.4 944.8,467.9 631.0,282.2" fill="url(#gTile)" />
<g stroke="#6b5646" stroke-width="1.7">
<line x1="637.0" y1="274.7" x2="637.0" y2="285.2"/>
<line x1="647.2" y1="280.8" x2="647.2" y2="291.3"/>
<line x1="657.4" y1="286.8" x2="657.4" y2="297.3"/>
<line x1="667.6" y1="292.8" x2="667.6" y2="303.3"/>
<line x1="677.8" y1="298.9" x2="677.8" y2="309.4"/>
<line x1="688.0" y1="304.9" x2="688.0" y2="315.4"/>
<line x1="698.2" y1="311.0" x2="698.2" y2="321.5"/>
<line x1="708.4" y1="317.0" x2="708.4" y2="327.5"/>
<line x1="718.6" y1="323.0" x2="718.6" y2="333.5"/>
<line x1="728.8" y1="329.1" x2="728.8" y2="339.6"/>
<line x1="739.0" y1="335.1" x2="739.0" y2="345.6"/>
<line x1="749.2" y1="341.1" x2="749.2" y2="351.6"/>
<line x1="759.4" y1="347.2" x2="759.4" y2="357.7"/>
<line x1="769.6" y1="353.2" x2="769.6" y2="363.7"/>
<line x1="779.8" y1="359.3" x2="779.8" y2="369.8"/>
<line x1="790.0" y1="365.3" x2="790.0" y2="375.8"/>
<line x1="800.2" y1="371.3" x2="800.2" y2="381.8"/>
<line x1="810.4" y1="377.4" x2="810.4" y2="387.9"/>
<line x1="820.6" y1="383.4" x2="820.6" y2="393.9"/>
<line x1="830.8" y1="389.5" x2="830.8" y2="400.0"/>
<line x1="841.0" y1="395.5" x2="841.0" y2="406.0"/>
<line x1="851.2" y1="401.5" x2="851.2" y2="412.0"/>
<line x1="861.4" y1="407.6" x2="861.4" y2="418.1"/>
<line x1="871.6" y1="413.6" x2="871.6" y2="424.1"/>
<line x1="881.8" y1="419.6" x2="881.8" y2="430.1"/>
<line x1="892.0" y1="425.7" x2="892.0" y2="436.2"/>
<line x1="902.2" y1="431.7" x2="902.2" y2="442.2"/>
<line x1="912.4" y1="437.8" x2="912.4" y2="448.3"/>
<line x1="922.6" y1="443.8" x2="922.6" y2="454.3"/>
<line x1="932.8" y1="449.8" x2="932.8" y2="460.3"/>
<line x1="943.0" y1="455.9" x2="943.0" y2="466.4"/>
<line x1="957.0" y1="453.3" x2="957.0" y2="461.3"/>
<line x1="968.0" y1="449.9" x2="968.0" y2="457.9"/>
<line x1="979.0" y1="446.5" x2="979.0" y2="454.5"/>
<line x1="990.0" y1="443.1" x2="990.0" y2="451.1"/>
<line x1="1001.0" y1="439.7" x2="1001.0" y2="447.7"/>
<line x1="1012.0" y1="436.3" x2="1012.0" y2="444.3"/>
</g>
<polygon points="631.0,281.7 944.8,467.4 951.0,468.4 1021.0,440.0 1021.0,447.0 952.0,478.0 943.0,477.0 631.0,286.7" fill="#4e413c" />
<g stroke="#000" stroke-width="1.15" fill="none">
<line x1="301" y1="64.3" x2="763" y2="64.3"/>
<line x1="436" y1="163.3" x2="795" y2="163.3"/>
<line x1="408" y1="262.3" x2="718" y2="262.3"/>
<polyline points="442.5,383.3 873.5,383.3 873.5,224"/>
<polyline points="441,466.3 936.5,466.3 936.5,288"/>
<polyline points="389,583.3 982.5,583.3 982.5,367"/>
</g>
<g fill="#f40c0c">
<circle cx="762.7" cy="63.8" r="4.8"/>
<circle cx="795.3" cy="162.9" r="4.8"/>
<circle cx="717.9" cy="262" r="5"/>
<circle cx="873.8" cy="223.8" r="5"/>
<circle cx="936.4" cy="287.6" r="5"/>
<circle cx="982.3" cy="366.5" r="5"/>
</g>
</svg>
<svg class="m" width="100" height="625" viewBox="0 0 100 625" style="position:absolute;left:0;top:0">
<defs>
<filter id="iCoir" x="0" y="0" width="100%" height="100%" color-interpolation-filters="sRGB">
<feTurbulence type="fractalNoise" baseFrequency="0.45 0.3" numOctaves="3" seed="11" result="n"/>
<feColorMatrix in="n" type="matrix" values="0.6 0 0 0 0.2  0.6 0 0 0 0.2  0.6 0 0 0 0.2  0 0 0 0 1" result="g"/>
<feBlend in="SourceGraphic" in2="g" mode="overlay" result="b"/>
<feComposite in="b" in2="SourceAlpha" operator="in"/>
</filter>
<filter id="iFelt" x="0" y="0" width="100%" height="100%" color-interpolation-filters="sRGB">
<feTurbulence type="fractalNoise" baseFrequency="0.5" numOctaves="2" seed="3" result="n"/>
<feColorMatrix in="n" type="matrix" values="0.5 0 0 0 0.25  0.5 0 0 0 0.25  0.5 0 0 0 0.25  0 0 0 0 1" result="g"/>
<feBlend in="SourceGraphic" in2="g" mode="overlay" result="b"/>
<feComposite in="b" in2="SourceAlpha" operator="in"/>
</filter>
<filter id="ib"><feGaussianBlur stdDeviation="0.6"/></filter>
<filter id="ib2"><feGaussianBlur stdDeviation="1.4"/></filter>

<clipPath id="ic0"><circle cx="67.8" cy="30.8" r="20.4"/></clipPath>
<clipPath id="ic1"><circle cx="68.1" cy="128.2" r="20.4"/></clipPath>
<clipPath id="ic2"><circle cx="68.0" cy="230.0" r="20.4"/></clipPath>
<clipPath id="ic3"><circle cx="67.8" cy="328.2" r="20.4"/></clipPath>
<clipPath id="ic4"><circle cx="67.8" cy="430.2" r="20.4"/></clipPath>
<clipPath id="ic5"><circle cx="67.8" cy="533.8" r="20.4"/></clipPath>
</defs>
<g clip-path="url(#ic0)">
<rect x="45" y="8" width="46" height="46" fill="#cdcdd6"/>
<ellipse cx="12.0" cy="5.6" rx="2.6" ry="2.0" fill="#e2e2ea" filter="url(#ib)"/>
<ellipse cx="15.1" cy="11.0" rx="2.6" ry="2.0" fill="#e2e2ea" filter="url(#ib)"/>
<ellipse cx="18.2" cy="16.4" rx="2.6" ry="2.0" fill="#e2e2ea" filter="url(#ib)"/>
<ellipse cx="21.3" cy="21.8" rx="2.6" ry="2.0" fill="#e2e2ea" filter="url(#ib)"/>
<ellipse cx="24.4" cy="27.2" rx="2.6" ry="2.0" fill="#e2e2ea" filter="url(#ib)"/>
<ellipse cx="27.5" cy="32.6" rx="2.6" ry="2.0" fill="#e2e2ea" filter="url(#ib)"/>
<ellipse cx="30.6" cy="38.0" rx="2.6" ry="2.0" fill="#e2e2ea" filter="url(#ib)"/>
<ellipse cx="33.7" cy="43.4" rx="2.6" ry="2.0" fill="#e2e2ea" filter="url(#ib)"/>
<ellipse cx="36.8" cy="48.8" rx="2.6" ry="2.0" fill="#e2e2ea" filter="url(#ib)"/>
<ellipse cx="39.9" cy="54.2" rx="2.6" ry="2.0" fill="#e2e2ea" filter="url(#ib)"/>
<ellipse cx="43.0" cy="59.6" rx="2.6" ry="2.0" fill="#e2e2ea" filter="url(#ib)"/>
<ellipse cx="46.1" cy="65.0" rx="2.6" ry="2.0" fill="#e2e2ea" filter="url(#ib)"/>
<ellipse cx="49.2" cy="70.4" rx="2.6" ry="2.0" fill="#e2e2ea" filter="url(#ib)"/>
<ellipse cx="18.2" cy="4.4" rx="2.6" ry="2.0" fill="#e2e2ea" filter="url(#ib)"/>
<ellipse cx="21.3" cy="9.8" rx="2.6" ry="2.0" fill="#e2e2ea" filter="url(#ib)"/>
<ellipse cx="24.4" cy="15.2" rx="2.6" ry="2.0" fill="#e2e2ea" filter="url(#ib)"/>
<ellipse cx="27.5" cy="20.6" rx="2.6" ry="2.0" fill="#e2e2ea" filter="url(#ib)"/>
<ellipse cx="30.6" cy="26.0" rx="2.6" ry="2.0" fill="#e2e2ea" filter="url(#ib)"/>
<ellipse cx="33.7" cy="31.4" rx="2.6" ry="2.0" fill="#e2e2ea" filter="url(#ib)"/>
<ellipse cx="36.8" cy="36.8" rx="2.6" ry="2.0" fill="#e2e2ea" filter="url(#ib)"/>
<ellipse cx="39.9" cy="42.2" rx="2.6" ry="2.0" fill="#e2e2ea" filter="url(#ib)"/>
<ellipse cx="43.0" cy="47.6" rx="2.6" ry="2.0" fill="#e2e2ea" filter="url(#ib)"/>
<ellipse cx="46.1" cy="53.0" rx="2.6" ry="2.0" fill="#e2e2ea" filter="url(#ib)"/>
<ellipse cx="49.2" cy="58.4" rx="2.6" ry="2.0" fill="#e2e2ea" filter="url(#ib)"/>
<ellipse cx="52.3" cy="63.8" rx="2.6" ry="2.0" fill="#e2e2ea" filter="url(#ib)"/>
<ellipse cx="55.4" cy="69.2" rx="2.6" ry="2.0" fill="#e2e2ea" filter="url(#ib)"/>
<ellipse cx="24.4" cy="3.2" rx="2.6" ry="2.0" fill="#e2e2ea" filter="url(#ib)"/>
<ellipse cx="27.5" cy="8.6" rx="2.6" ry="2.0" fill="#e2e2ea" filter="url(#ib)"/>
<ellipse cx="30.6" cy="14.0" rx="2.6" ry="2.0" fill="#e2e2ea" filter="url(#ib)"/>
<ellipse cx="33.7" cy="19.4" rx="2.6" ry="2.0" fill="#e2e2ea" filter="url(#ib)"/>
<ellipse cx="36.8" cy="24.8" rx="2.6" ry="2.0" fill="#e2e2ea" filter="url(#ib)"/>
<ellipse cx="39.9" cy="30.2" rx="2.6" ry="2.0" fill="#e2e2ea" filter="url(#ib)"/>
<ellipse cx="43.0" cy="35.6" rx="2.6" ry="2.0" fill="#e2e2ea" filter="url(#ib)"/>
<ellipse cx="46.1" cy="41.0" rx="2.6" ry="2.0" fill="#e2e2ea" filter="url(#ib)"/>
<ellipse cx="49.2" cy="46.4" rx="2.6" ry="2.0" fill="#e2e2ea" filter="url(#ib)"/>
<ellipse cx="52.3" cy="51.8" rx="2.6" ry="2.0" fill="#e2e2ea" filter="url(#ib)"/>
<ellipse cx="55.4" cy="57.2" rx="2.6" ry="2.0" fill="#e2e2ea" filter="url(#ib)"/>
<ellipse cx="58.5" cy="62.6" rx="2.6" ry="2.0" fill="#e2e2ea" filter="url(#ib)"/>
<ellipse cx="61.6" cy="68.0" rx="2.6" ry="2.0" fill="#e2e2ea" filter="url(#ib)"/>
<ellipse cx="30.6" cy="2.0" rx="2.6" ry="2.0" fill="#e2e2ea" filter="url(#ib)"/>
<ellipse cx="33.7" cy="7.4" rx="2.6" ry="2.0" fill="#e2e2ea" filter="url(#ib)"/>
<ellipse cx="36.8" cy="12.8" rx="2.6" ry="2.0" fill="#e2e2ea" filter="url(#ib)"/>
<ellipse cx="39.9" cy="18.2" rx="2.6" ry="2.0" fill="#e2e2ea" filter="url(#ib)"/>
<ellipse cx="43.0" cy="23.6" rx="2.6" ry="2.0" fill="#e2e2ea" filter="url(#ib)"/>
<ellipse cx="46.1" cy="29.0" rx="2.6" ry="2.0" fill="#e2e2ea" filter="url(#ib)"/>
<ellipse cx="49.2" cy="34.4" rx="2.6" ry="2.0" fill="#e2e2ea" filter="url(#ib)"/>
<ellipse cx="52.3" cy="39.8" rx="2.6" ry="2.0" fill="#e2e2ea" filter="url(#ib)"/>
<ellipse cx="55.4" cy="45.2" rx="2.6" ry="2.0" fill="#e2e2ea" filter="url(#ib)"/>
<ellipse cx="58.5" cy="50.6" rx="2.6" ry="2.0" fill="#e2e2ea" filter="url(#ib)"/>
<ellipse cx="61.6" cy="56.0" rx="2.6" ry="2.0" fill="#e2e2ea" filter="url(#ib)"/>
<ellipse cx="64.7" cy="61.4" rx="2.6" ry="2.0" fill="#e2e2ea" filter="url(#ib)"/>
<ellipse cx="67.8" cy="66.8" rx="2.6" ry="2.0" fill="#e2e2ea" filter="url(#ib)"/>
<ellipse cx="36.8" cy="0.8" rx="2.6" ry="2.0" fill="#e2e2ea" filter="url(#ib)"/>
<ellipse cx="39.9" cy="6.2" rx="2.6" ry="2.0" fill="#e2e2ea" filter="url(#ib)"/>
<ellipse cx="43.0" cy="11.6" rx="2.6" ry="2.0" fill="#e2e2ea" filter="url(#ib)"/>
<ellipse cx="46.1" cy="17.0" rx="2.6" ry="2.0" fill="#e2e2ea" filter="url(#ib)"/>
<ellipse cx="49.2" cy="22.4" rx="2.6" ry="2.0" fill="#e2e2ea" filter="url(#ib)"/>
<ellipse cx="52.3" cy="27.8" rx="2.6" ry="2.0" fill="#e2e2ea" filter="url(#ib)"/>
<ellipse cx="55.4" cy="33.2" rx="2.6" ry="2.0" fill="#e2e2ea" filter="url(#ib)"/>
<ellipse cx="58.5" cy="38.6" rx="2.6" ry="2.0" fill="#e2e2ea" filter="url(#ib)"/>
<ellipse cx="61.6" cy="44.0" rx="2.6" ry="2.0" fill="#e2e2ea" filter="url(#ib)"/>
<ellipse cx="64.7" cy="49.4" rx="2.6" ry="2.0" fill="#e2e2ea" filter="url(#ib)"/>
<ellipse cx="67.8" cy="54.8" rx="2.6" ry="2.0" fill="#e2e2ea" filter="url(#ib)"/>
<ellipse cx="70.9" cy="60.2" rx="2.6" ry="2.0" fill="#e2e2ea" filter="url(#ib)"/>
<ellipse cx="74.0" cy="65.6" rx="2.6" ry="2.0" fill="#e2e2ea" filter="url(#ib)"/>
<ellipse cx="43.0" cy="-0.4" rx="2.6" ry="2.0" fill="#e2e2ea" filter="url(#ib)"/>
<ellipse cx="46.1" cy="5.0" rx="2.6" ry="2.0" fill="#e2e2ea" filter="url(#ib)"/>
<ellipse cx="49.2" cy="10.4" rx="2.6" ry="2.0" fill="#e2e2ea" filter="url(#ib)"/>
<ellipse cx="52.3" cy="15.8" rx="2.6" ry="2.0" fill="#e2e2ea" filter="url(#ib)"/>
<ellipse cx="55.4" cy="21.2" rx="2.6" ry="2.0" fill="#e2e2ea" filter="url(#ib)"/>
<ellipse cx="58.5" cy="26.6" rx="2.6" ry="2.0" fill="#e2e2ea" filter="url(#ib)"/>
<ellipse cx="61.6" cy="32.0" rx="2.6" ry="2.0" fill="#e2e2ea" filter="url(#ib)"/>
<ellipse cx="64.7" cy="37.4" rx="2.6" ry="2.0" fill="#e2e2ea" filter="url(#ib)"/>
<ellipse cx="67.8" cy="42.8" rx="2.6" ry="2.0" fill="#e2e2ea" filter="url(#ib)"/>
<ellipse cx="70.9" cy="48.2" rx="2.6" ry="2.0" fill="#e2e2ea" filter="url(#ib)"/>
<ellipse cx="74.0" cy="53.6" rx="2.6" ry="2.0" fill="#e2e2ea" filter="url(#ib)"/>
<ellipse cx="77.1" cy="59.0" rx="2.6" ry="2.0" fill="#e2e2ea" filter="url(#ib)"/>
<ellipse cx="80.2" cy="64.4" rx="2.6" ry="2.0" fill="#e2e2ea" filter="url(#ib)"/>
<ellipse cx="49.2" cy="-1.6" rx="2.6" ry="2.0" fill="#e2e2ea" filter="url(#ib)"/>
<ellipse cx="52.3" cy="3.8" rx="2.6" ry="2.0" fill="#e2e2ea" filter="url(#ib)"/>
<ellipse cx="55.4" cy="9.2" rx="2.6" ry="2.0" fill="#e2e2ea" filter="url(#ib)"/>
<ellipse cx="58.5" cy="14.6" rx="2.6" ry="2.0" fill="#e2e2ea" filter="url(#ib)"/>
<ellipse cx="61.6" cy="20.0" rx="2.6" ry="2.0" fill="#e2e2ea" filter="url(#ib)"/>
<ellipse cx="64.7" cy="25.4" rx="2.6" ry="2.0" fill="#e2e2ea" filter="url(#ib)"/>
<ellipse cx="67.8" cy="30.8" rx="2.6" ry="2.0" fill="#e2e2ea" filter="url(#ib)"/>
<ellipse cx="70.9" cy="36.2" rx="2.6" ry="2.0" fill="#e2e2ea" filter="url(#ib)"/>
<ellipse cx="74.0" cy="41.6" rx="2.6" ry="2.0" fill="#e2e2ea" filter="url(#ib)"/>
<ellipse cx="77.1" cy="47.0" rx="2.6" ry="2.0" fill="#e2e2ea" filter="url(#ib)"/>
<ellipse cx="80.2" cy="52.4" rx="2.6" ry="2.0" fill="#e2e2ea" filter="url(#ib)"/>
<ellipse cx="83.3" cy="57.8" rx="2.6" ry="2.0" fill="#e2e2ea" filter="url(#ib)"/>
<ellipse cx="86.4" cy="63.2" rx="2.6" ry="2.0" fill="#e2e2ea" filter="url(#ib)"/>
<ellipse cx="55.4" cy="-2.8" rx="2.6" ry="2.0" fill="#e2e2ea" filter="url(#ib)"/>
<ellipse cx="58.5" cy="2.6" rx="2.6" ry="2.0" fill="#e2e2ea" filter="url(#ib)"/>
<ellipse cx="61.6" cy="8.0" rx="2.6" ry="2.0" fill="#e2e2ea" filter="url(#ib)"/>
<ellipse cx="64.7" cy="13.4" rx="2.6" ry="2.0" fill="#e2e2ea" filter="url(#ib)"/>
<ellipse cx="67.8" cy="18.8" rx="2.6" ry="2.0" fill="#e2e2ea" filter="url(#ib)"/>
<ellipse cx="70.9" cy="24.2" rx="2.6" ry="2.0" fill="#e2e2ea" filter="url(#ib)"/>
<ellipse cx="74.0" cy="29.6" rx="2.6" ry="2.0" fill="#e2e2ea" filter="url(#ib)"/>
<ellipse cx="77.1" cy="35.0" rx="2.6" ry="2.0" fill="#e2e2ea" filter="url(#ib)"/>
<ellipse cx="80.2" cy="40.4" rx="2.6" ry="2.0" fill="#e2e2ea" filter="url(#ib)"/>
<ellipse cx="83.3" cy="45.8" rx="2.6" ry="2.0" fill="#e2e2ea" filter="url(#ib)"/>
<ellipse cx="86.4" cy="51.2" rx="2.6" ry="2.0" fill="#e2e2ea" filter="url(#ib)"/>
<ellipse cx="89.5" cy="56.6" rx="2.6" ry="2.0" fill="#e2e2ea" filter="url(#ib)"/>
<ellipse cx="92.6" cy="62.0" rx="2.6" ry="2.0" fill="#e2e2ea" filter="url(#ib)"/>
<ellipse cx="61.6" cy="-4.0" rx="2.6" ry="2.0" fill="#e2e2ea" filter="url(#ib)"/>
<ellipse cx="64.7" cy="1.4" rx="2.6" ry="2.0" fill="#e2e2ea" filter="url(#ib)"/>
<ellipse cx="67.8" cy="6.8" rx="2.6" ry="2.0" fill="#e2e2ea" filter="url(#ib)"/>
<ellipse cx="70.9" cy="12.2" rx="2.6" ry="2.0" fill="#e2e2ea" filter="url(#ib)"/>
<ellipse cx="74.0" cy="17.6" rx="2.6" ry="2.0" fill="#e2e2ea" filter="url(#ib)"/>
<ellipse cx="77.1" cy="23.0" rx="2.6" ry="2.0" fill="#e2e2ea" filter="url(#ib)"/>
<ellipse cx="80.2" cy="28.4" rx="2.6" ry="2.0" fill="#e2e2ea" filter="url(#ib)"/>
<ellipse cx="83.3" cy="33.8" rx="2.6" ry="2.0" fill="#e2e2ea" filter="url(#ib)"/>
<ellipse cx="86.4" cy="39.2" rx="2.6" ry="2.0" fill="#e2e2ea" filter="url(#ib)"/>
<ellipse cx="89.5" cy="44.6" rx="2.6" ry="2.0" fill="#e2e2ea" filter="url(#ib)"/>
<ellipse cx="92.6" cy="50.0" rx="2.6" ry="2.0" fill="#e2e2ea" filter="url(#ib)"/>
<ellipse cx="95.7" cy="55.4" rx="2.6" ry="2.0" fill="#e2e2ea" filter="url(#ib)"/>
<ellipse cx="98.8" cy="60.8" rx="2.6" ry="2.0" fill="#e2e2ea" filter="url(#ib)"/>
<ellipse cx="67.8" cy="-5.2" rx="2.6" ry="2.0" fill="#e2e2ea" filter="url(#ib)"/>
<ellipse cx="70.9" cy="0.2" rx="2.6" ry="2.0" fill="#e2e2ea" filter="url(#ib)"/>
<ellipse cx="74.0" cy="5.6" rx="2.6" ry="2.0" fill="#e2e2ea" filter="url(#ib)"/>
<ellipse cx="77.1" cy="11.0" rx="2.6" ry="2.0" fill="#e2e2ea" filter="url(#ib)"/>
<ellipse cx="80.2" cy="16.4" rx="2.6" ry="2.0" fill="#e2e2ea" filter="url(#ib)"/>
<ellipse cx="83.3" cy="21.8" rx="2.6" ry="2.0" fill="#e2e2ea" filter="url(#ib)"/>
<ellipse cx="86.4" cy="27.2" rx="2.6" ry="2.0" fill="#e2e2ea" filter="url(#ib)"/>
<ellipse cx="89.5" cy="32.6" rx="2.6" ry="2.0" fill="#e2e2ea" filter="url(#ib)"/>
<ellipse cx="92.6" cy="38.0" rx="2.6" ry="2.0" fill="#e2e2ea" filter="url(#ib)"/>
<ellipse cx="95.7" cy="43.4" rx="2.6" ry="2.0" fill="#e2e2ea" filter="url(#ib)"/>
<ellipse cx="98.8" cy="48.8" rx="2.6" ry="2.0" fill="#e2e2ea" filter="url(#ib)"/>
<ellipse cx="101.9" cy="54.2" rx="2.6" ry="2.0" fill="#e2e2ea" filter="url(#ib)"/>
<ellipse cx="105.0" cy="59.6" rx="2.6" ry="2.0" fill="#e2e2ea" filter="url(#ib)"/>
<ellipse cx="74.0" cy="-6.4" rx="2.6" ry="2.0" fill="#e2e2ea" filter="url(#ib)"/>
<ellipse cx="77.1" cy="-1.0" rx="2.6" ry="2.0" fill="#e2e2ea" filter="url(#ib)"/>
<ellipse cx="80.2" cy="4.4" rx="2.6" ry="2.0" fill="#e2e2ea" filter="url(#ib)"/>
<ellipse cx="83.3" cy="9.8" rx="2.6" ry="2.0" fill="#e2e2ea" filter="url(#ib)"/>
<ellipse cx="86.4" cy="15.2" rx="2.6" ry="2.0" fill="#e2e2ea" filter="url(#ib)"/>
<ellipse cx="89.5" cy="20.6" rx="2.6" ry="2.0" fill="#e2e2ea" filter="url(#ib)"/>
<ellipse cx="92.6" cy="26.0" rx="2.6" ry="2.0" fill="#e2e2ea" filter="url(#ib)"/>
<ellipse cx="95.7" cy="31.4" rx="2.6" ry="2.0" fill="#e2e2ea" filter="url(#ib)"/>
<ellipse cx="98.8" cy="36.8" rx="2.6" ry="2.0" fill="#e2e2ea" filter="url(#ib)"/>
<ellipse cx="101.9" cy="42.2" rx="2.6" ry="2.0" fill="#e2e2ea" filter="url(#ib)"/>
<ellipse cx="105.0" cy="47.6" rx="2.6" ry="2.0" fill="#e2e2ea" filter="url(#ib)"/>
<ellipse cx="108.1" cy="53.0" rx="2.6" ry="2.0" fill="#e2e2ea" filter="url(#ib)"/>
<ellipse cx="111.2" cy="58.4" rx="2.6" ry="2.0" fill="#e2e2ea" filter="url(#ib)"/>
<ellipse cx="80.2" cy="-7.6" rx="2.6" ry="2.0" fill="#e2e2ea" filter="url(#ib)"/>
<ellipse cx="83.3" cy="-2.2" rx="2.6" ry="2.0" fill="#e2e2ea" filter="url(#ib)"/>
<ellipse cx="86.4" cy="3.2" rx="2.6" ry="2.0" fill="#e2e2ea" filter="url(#ib)"/>
<ellipse cx="89.5" cy="8.6" rx="2.6" ry="2.0" fill="#e2e2ea" filter="url(#ib)"/>
<ellipse cx="92.6" cy="14.0" rx="2.6" ry="2.0" fill="#e2e2ea" filter="url(#ib)"/>
<ellipse cx="95.7" cy="19.4" rx="2.6" ry="2.0" fill="#e2e2ea" filter="url(#ib)"/>
<ellipse cx="98.8" cy="24.8" rx="2.6" ry="2.0" fill="#e2e2ea" filter="url(#ib)"/>
<ellipse cx="101.9" cy="30.2" rx="2.6" ry="2.0" fill="#e2e2ea" filter="url(#ib)"/>
<ellipse cx="105.0" cy="35.6" rx="2.6" ry="2.0" fill="#e2e2ea" filter="url(#ib)"/>
<ellipse cx="108.1" cy="41.0" rx="2.6" ry="2.0" fill="#e2e2ea" filter="url(#ib)"/>
<ellipse cx="111.2" cy="46.4" rx="2.6" ry="2.0" fill="#e2e2ea" filter="url(#ib)"/>
<ellipse cx="114.3" cy="51.8" rx="2.6" ry="2.0" fill="#e2e2ea" filter="url(#ib)"/>
<ellipse cx="117.4" cy="57.2" rx="2.6" ry="2.0" fill="#e2e2ea" filter="url(#ib)"/>
<ellipse cx="86.4" cy="-8.8" rx="2.6" ry="2.0" fill="#e2e2ea" filter="url(#ib)"/>
<ellipse cx="89.5" cy="-3.4" rx="2.6" ry="2.0" fill="#e2e2ea" filter="url(#ib)"/>
<ellipse cx="92.6" cy="2.0" rx="2.6" ry="2.0" fill="#e2e2ea" filter="url(#ib)"/>
<ellipse cx="95.7" cy="7.4" rx="2.6" ry="2.0" fill="#e2e2ea" filter="url(#ib)"/>
<ellipse cx="98.8" cy="12.8" rx="2.6" ry="2.0" fill="#e2e2ea" filter="url(#ib)"/>
<ellipse cx="101.9" cy="18.2" rx="2.6" ry="2.0" fill="#e2e2ea" filter="url(#ib)"/>
<ellipse cx="105.0" cy="23.6" rx="2.6" ry="2.0" fill="#e2e2ea" filter="url(#ib)"/>
<ellipse cx="108.1" cy="29.0" rx="2.6" ry="2.0" fill="#e2e2ea" filter="url(#ib)"/>
<ellipse cx="111.2" cy="34.4" rx="2.6" ry="2.0" fill="#e2e2ea" filter="url(#ib)"/>
<ellipse cx="114.3" cy="39.8" rx="2.6" ry="2.0" fill="#e2e2ea" filter="url(#ib)"/>
<ellipse cx="117.4" cy="45.2" rx="2.6" ry="2.0" fill="#e2e2ea" filter="url(#ib)"/>
<ellipse cx="120.5" cy="50.6" rx="2.6" ry="2.0" fill="#e2e2ea" filter="url(#ib)"/>
<ellipse cx="123.6" cy="56.0" rx="2.6" ry="2.0" fill="#e2e2ea" filter="url(#ib)"/>
</g>
<g clip-path="url(#ic1)">
<rect x="45" y="105" width="46" height="46" fill="#f4f2ea"/>
<rect x="25.6" y="117.2" width="2.2" height="2.2" fill="#e6e1d2" />
<rect x="27.7" y="121.0" width="2.2" height="2.2" fill="#e6e1d2" />
<rect x="29.8" y="124.8" width="2.2" height="2.2" fill="#e6e1d2" />
<rect x="31.9" y="128.6" width="2.2" height="2.2" fill="#e6e1d2" />
<rect x="34.0" y="132.4" width="2.2" height="2.2" fill="#e6e1d2" />
<rect x="36.1" y="136.2" width="2.2" height="2.2" fill="#e6e1d2" />
<rect x="38.2" y="140.0" width="2.2" height="2.2" fill="#e6e1d2" />
<rect x="40.3" y="143.8" width="2.2" height="2.2" fill="#e6e1d2" />
<rect x="42.4" y="147.6" width="2.2" height="2.2" fill="#e6e1d2" />
<rect x="44.5" y="151.4" width="2.2" height="2.2" fill="#e6e1d2" />
<rect x="29.8" y="115.4" width="2.2" height="2.2" fill="#e6e1d2" />
<rect x="31.9" y="119.2" width="2.2" height="2.2" fill="#e6e1d2" />
<rect x="34.0" y="123.0" width="2.2" height="2.2" fill="#e6e1d2" />
<rect x="36.1" y="126.8" width="2.2" height="2.2" fill="#e6e1d2" />
<rect x="38.2" y="130.6" width="2.2" height="2.2" fill="#e6e1d2" />
<rect x="40.3" y="134.4" width="2.2" height="2.2" fill="#e6e1d2" />
<rect x="42.4" y="138.2" width="2.2" height="2.2" fill="#e6e1d2" />
<rect x="44.5" y="142.0" width="2.2" height="2.2" fill="#e6e1d2" />
<rect x="46.6" y="145.8" width="2.2" height="2.2" fill="#e6e1d2" />
<rect x="48.7" y="149.6" width="2.2" height="2.2" fill="#e6e1d2" />
<rect x="34.0" y="113.6" width="2.2" height="2.2" fill="#e6e1d2" />
<rect x="36.1" y="117.4" width="2.2" height="2.2" fill="#e6e1d2" />
<rect x="38.2" y="121.2" width="2.2" height="2.2" fill="#e6e1d2" />
<rect x="40.3" y="125.0" width="2.2" height="2.2" fill="#e6e1d2" />
<rect x="42.4" y="128.8" width="2.2" height="2.2" fill="#e6e1d2" />
<rect x="44.5" y="132.6" width="2.2" height="2.2" fill="#e6e1d2" />
<rect x="46.6" y="136.4" width="2.2" height="2.2" fill="#e6e1d2" />
<rect x="48.7" y="140.2" width="2.2" height="2.2" fill="#e6e1d2" />
<rect x="50.8" y="144.0" width="2.2" height="2.2" fill="#e6e1d2" />
<rect x="52.9" y="147.8" width="2.2" height="2.2" fill="#e6e1d2" />
<rect x="38.2" y="111.8" width="2.2" height="2.2" fill="#e6e1d2" />
<rect x="40.3" y="115.6" width="2.2" height="2.2" fill="#e6e1d2" />
<rect x="42.4" y="119.4" width="2.2" height="2.2" fill="#e6e1d2" />
<rect x="44.5" y="123.2" width="2.2" height="2.2" fill="#e6e1d2" />
<rect x="46.6" y="127.0" width="2.2" height="2.2" fill="#e6e1d2" />
<rect x="48.7" y="130.8" width="2.2" height="2.2" fill="#e6e1d2" />
<rect x="50.8" y="134.6" width="2.2" height="2.2" fill="#e6e1d2" />
<rect x="52.9" y="138.4" width="2.2" height="2.2" fill="#e6e1d2" />
<rect x="55.0" y="142.2" width="2.2" height="2.2" fill="#e6e1d2" />
<rect x="57.1" y="146.0" width="2.2" height="2.2" fill="#e6e1d2" />
<rect x="42.4" y="110.0" width="2.2" height="2.2" fill="#e6e1d2" />
<rect x="44.5" y="113.8" width="2.2" height="2.2" fill="#e6e1d2" />
<rect x="46.6" y="117.6" width="2.2" height="2.2" fill="#e6e1d2" />
<rect x="48.7" y="121.4" width="2.2" height="2.2" fill="#e6e1d2" />
<rect x="50.8" y="125.2" width="2.2" height="2.2" fill="#e6e1d2" />
<rect x="52.9" y="129.0" width="2.2" height="2.2" fill="#e6e1d2" />
<rect x="55.0" y="132.8" width="2.2" height="2.2" fill="#e6e1d2" />
<rect x="57.1" y="136.6" width="2.2" height="2.2" fill="#e6e1d2" />
<rect x="59.2" y="140.4" width="2.2" height="2.2" fill="#e6e1d2" />
<rect x="61.3" y="144.2" width="2.2" height="2.2" fill="#e6e1d2" />
<rect x="46.6" y="108.2" width="2.2" height="2.2" fill="#e6e1d2" />
<rect x="48.7" y="112.0" width="2.2" height="2.2" fill="#e6e1d2" />
<rect x="50.8" y="115.8" width="2.2" height="2.2" fill="#e6e1d2" />
<rect x="52.9" y="119.6" width="2.2" height="2.2" fill="#e6e1d2" />
<rect x="55.0" y="123.4" width="2.2" height="2.2" fill="#e6e1d2" />
<rect x="57.1" y="127.2" width="2.2" height="2.2" fill="#e6e1d2" />
<rect x="59.2" y="131.0" width="2.2" height="2.2" fill="#e6e1d2" />
<rect x="61.3" y="134.8" width="2.2" height="2.2" fill="#e6e1d2" />
<rect x="63.4" y="138.6" width="2.2" height="2.2" fill="#e6e1d2" />
<rect x="50.8" y="106.4" width="2.2" height="2.2" fill="#e6e1d2" />
<rect x="52.9" y="110.2" width="2.2" height="2.2" fill="#e6e1d2" />
<rect x="55.0" y="114.0" width="2.2" height="2.2" fill="#e6e1d2" />
<rect x="57.1" y="117.8" width="2.2" height="2.2" fill="#e6e1d2" />
<rect x="59.2" y="121.6" width="2.2" height="2.2" fill="#e6e1d2" />
<rect x="61.3" y="125.4" width="2.2" height="2.2" fill="#e6e1d2" />
<rect x="63.4" y="129.2" width="2.2" height="2.2" fill="#e6e1d2" />
<rect x="65.5" y="133.0" width="2.2" height="2.2" fill="#e6e1d2" />
<rect x="55.0" y="104.6" width="2.2" height="2.2" fill="#e6e1d2" />
<rect x="57.1" y="108.4" width="2.2" height="2.2" fill="#e6e1d2" />
<rect x="59.2" y="112.2" width="2.2" height="2.2" fill="#e6e1d2" />
<rect x="61.3" y="116.0" width="2.2" height="2.2" fill="#e6e1d2" />
<rect x="63.4" y="119.8" width="2.2" height="2.2" fill="#e6e1d2" />
<rect x="65.5" y="123.6" width="2.2" height="2.2" fill="#e6e1d2" />
<rect x="67.6" y="127.4" width="2.2" height="2.2" fill="#e6e1d2" />
<rect x="59.2" y="102.8" width="2.2" height="2.2" fill="#e6e1d2" />
<rect x="61.3" y="106.6" width="2.2" height="2.2" fill="#e6e1d2" />
<rect x="63.4" y="110.4" width="2.2" height="2.2" fill="#e6e1d2" />
<rect x="65.5" y="114.2" width="2.2" height="2.2" fill="#e6e1d2" />
<rect x="67.6" y="118.0" width="2.2" height="2.2" fill="#e6e1d2" />
<rect x="69.7" y="121.8" width="2.2" height="2.2" fill="#e6e1d2" />
<rect x="63.4" y="101.0" width="2.2" height="2.2" fill="#e6e1d2" />
<rect x="65.5" y="104.8" width="2.2" height="2.2" fill="#e6e1d2" />
<rect x="67.6" y="108.6" width="2.2" height="2.2" fill="#e6e1d2" />
<rect x="69.7" y="112.4" width="2.2" height="2.2" fill="#e6e1d2" />
<rect x="71.8" y="116.2" width="2.2" height="2.2" fill="#e6e1d2" />
<path d="M72,150 Q77,130 92,121 L92,150 Z" fill="#e9e1cc" filter="url(#ib2)"/>
<path d="M66,150 Q70,130 88,116" stroke="#fbfaf6" stroke-width="3" fill="none" filter="url(#ib)"/>
</g>
<g clip-path="url(#ic2)">
<rect x="45" y="207" width="46" height="46" fill="#f3f3f3"/>
<polygon points="52,222 60,215 95,252 70,260 45,262 45,230" fill="#8d8d8f"/>
<polygon points="45,235 52,222 80,256 45,260" fill="#b5b5b7" filter="url(#ib)"/>
<line x1="54" y1="232" x2="82" y2="260" stroke="#222" stroke-width="2.2" filter="url(#ib)"/>
<polygon points="57,215 66,210 92,240 92,250" fill="#fbfbfb"/>
<line x1="66.0" y1="216.0" x2="92.0" y2="243.0" stroke="#6f88a8" stroke-width="1.3"/>
<line x1="68.8" y1="215.2" x2="92.0" y2="239.5" stroke="#6f88a8" stroke-width="1.3"/>
<line x1="71.6" y1="214.4" x2="92.0" y2="236.0" stroke="#6f88a8" stroke-width="1.3"/>
<line x1="74.4" y1="213.6" x2="92.0" y2="232.5" stroke="#6f88a8" stroke-width="1.3"/>
<line x1="77.2" y1="212.8" x2="92.0" y2="229.0" stroke="#6f88a8" stroke-width="1.3"/>
<line x1="80.0" y1="212.0" x2="92.0" y2="225.5" stroke="#6f88a8" stroke-width="1.3"/>
</g>
<g clip-path="url(#ic3)">
<rect x="45" y="305" width="46" height="46" fill="#6f7d7e" filter="url(#iFelt)"/>
<path d="M45,319 Q68,328 92,316" stroke="#2f3a3b" stroke-width="1.6" fill="none"/>
<path d="M45,328 Q66,338 92,326" stroke="#2f3a3b" stroke-width="1.8" fill="none"/>
<path d="M50,311 Q68,318 86,310" stroke="#9fb0b0" stroke-width="2.5" fill="none" opacity="0.5" filter="url(#ib)"/>
<path d="M45,324 Q68,333 92,321" stroke="#a3b2b2" stroke-width="3" fill="none" opacity="0.45" filter="url(#ib)"/>
</g>
<g clip-path="url(#ic4)">
<rect x="45" y="407" width="46" height="46" fill="#707075"/>
<polygon points="45,425 85,418 92,425 92,460 45,460" fill="#5b5b60"/>
<rect x="50.0" y="428.0" width="7" height="22" rx="2" fill="#d9d9db" filter="url(#ib)"/>
<rect x="58.5" y="426.0" width="7" height="22" rx="2" fill="#d9d9db" filter="url(#ib)"/>
<rect x="67.0" y="424.0" width="7" height="22" rx="2" fill="#d9d9db" filter="url(#ib)"/>
<rect x="75.5" y="422.0" width="7" height="22" rx="2" fill="#d9d9db" filter="url(#ib)"/>
<polygon points="80,420 90,415 84,448 72,450" fill="#cfcfd2" filter="url(#ib)"/>
<path d="M47,420 Q66,412 88,414" stroke="#4a4a50" stroke-width="2" fill="none"/>
</g>
<g clip-path="url(#ic5)">
<rect x="45" y="511" width="46" height="46" fill="#7a583a" filter="url(#iCoir)"/>
</g>
<circle cx="67.8" cy="30.8" r="20.4" fill="none" stroke="#4a4a4a" stroke-width="1.1"/>
<circle cx="68.1" cy="128.2" r="20.4" fill="none" stroke="#4a4a4a" stroke-width="1.1"/>
<circle cx="68.0" cy="230.0" r="20.4" fill="none" stroke="#4a4a4a" stroke-width="1.1"/>
<circle cx="67.8" cy="328.2" r="20.4" fill="none" stroke="#4a4a4a" stroke-width="1.1"/>
<circle cx="67.8" cy="430.2" r="20.4" fill="none" stroke="#4a4a4a" stroke-width="1.1"/>
<circle cx="67.8" cy="533.8" r="20.4" fill="none" stroke="#4a4a4a" stroke-width="1.1"/>
</svg>
<div class="t" style="left:93.93px;top:15.00px;transform:scaleX(0.8663)">ЧЕХОЛ ГИПОАЛЛЕРГЕННЫЙ</div>
<div class="t" style="left:93.87px;top:34.00px;transform:scaleX(0.9336)">С ХОЛКОНОМ</div>
<div class="b" style="left:54.82px;top:56.00px;transform:scaleX(1.0813)">Матрас не будет накапливать</div>
<div class="b" style="left:54.85px;top:75.00px;transform:scaleX(1.0543)">пыль и впитывать запахи</div>
<div class="t" style="left:97.80px;top:119.20px;transform:scaleX(0.8486)">ЛАТЕКС</div>
<div class="b" style="left:53.81px;top:155.30px;transform:scaleX(1.0860)">Слой латекса отвечает за поддержку костной</div>
<div class="b" style="left:53.86px;top:175.00px;transform:scaleX(1.0443)">системы</div>
<div class="t" style="left:94.50px;top:213.30px;transform:scaleX(0.8500)">УСИЛЕНИЕ</div>
<div class="t" style="left:94.05px;top:232.20px;transform:scaleX(0.8468)">ПО ПЕРИМЕТРУ</div>
<div class="b" style="left:53.82px;top:255.80px;transform:scaleX(1.0814)">Короб ППУ не пропускает влагу и запахи, а</div>
<div class="b" style="left:53.82px;top:275.00px;transform:scaleX(1.0784)">значит матрас прослужит дольше</div>
<div class="t" style="left:94.68px;top:322.60px;transform:scaleX(0.9230)">ВОЙЛОК</div>
<div class="b" style="left:54.52px;top:354.60px;transform:scaleX(1.0809)">Продлевает срок службы матраса  и оберегает</div>
<div class="b" style="left:54.51px;top:374.00px;transform:scaleX(1.0898)">наполнители от контакта с пружинным блоком</div>
<div class="t" style="left:95.45px;top:415.30px;transform:scaleX(0.8549)">НЕЗАВИСИМЫЙ</div>
<div class="t" style="left:95.42px;top:433.50px;transform:scaleX(0.8839)">ПРУЖИННЫЙ БЛОК</div>
<div class="b" style="left:54.54px;top:458.00px;transform:scaleX(1.0627)">Идеально подстраивается под изгибы тела,</div>
<div class="b" style="left:54.51px;top:476.50px;transform:scaleX(1.0883)">равномерно распределяя нагрузку</div>
<div class="t" style="left:95.29px;top:516.30px;transform:scaleX(0.9054)">КОКОСОВОЕ</div>
<div class="t" style="left:95.30px;top:535.20px;transform:scaleX(0.9034)">ПОЛОТНО</div>
<div class="b" style="left:54.42px;top:561.20px;transform:scaleX(1.0756)">Экологичный материал, который</div>
<div class="b" style="left:54.42px;top:581.00px;transform:scaleX(1.0763)">обладает лечебными и ортопедическими</div>
<div class="b" style="left:54.24px;top:600.80px;transform:scaleX(1.0576)">свойствами</div>
</body></html>
